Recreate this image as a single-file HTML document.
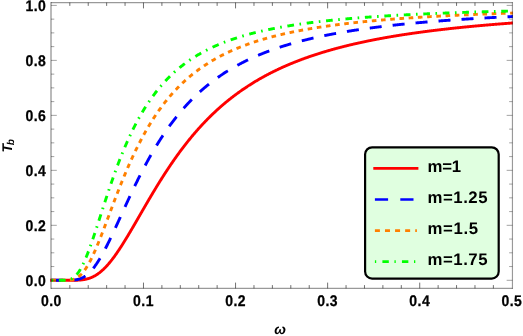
<!DOCTYPE html>
<html><head><meta charset="utf-8"><title>plot</title>
<style>
html,body{margin:0;padding:0;background:#fff;}
body{width:523px;height:336px;overflow:hidden;font-family:"Liberation Sans",sans-serif;}
svg{display:block;will-change:transform;}
text{text-rendering:geometricPrecision;font-family:"Liberation Sans",sans-serif;font-weight:bold;fill:#000;}
</style></head><body>
<svg width="523" height="336" viewBox="0 0 523 336">
<rect x="0" y="0" width="523" height="336" fill="#ffffff"/>
<defs><clipPath id="cp"><rect x="50.0" y="2.6" width="462.85" height="285.79999999999995"/></clipPath></defs>

<g clip-path="url(#cp)" fill="none" stroke-width="2.9" stroke-linecap="butt" stroke-linejoin="round">
<path d="M50.20,280.30 L51.40,280.30 L51.79,280.30 L52.17,280.30 L52.56,280.30 L52.94,280.30 L53.33,280.30 L53.72,280.30 L54.10,280.30 L54.49,280.30 L54.87,280.30 L55.26,280.30 L55.65,280.30 L56.03,280.30 L56.42,280.30 L56.80,280.30 L57.19,280.30 L57.58,280.30 L57.96,280.30 L58.35,280.30 L58.73,280.30 L59.12,280.30 L59.51,280.30 L59.89,280.30 L60.28,280.30 L60.66,280.30 L61.05,280.30 L61.44,280.30 L61.82,280.30 L62.21,280.30 L62.59,280.30 L62.98,280.30 L63.37,280.30 L63.75,280.30 L64.14,280.30 L64.52,280.30 L64.91,280.30 L65.29,280.30 L65.68,280.30 L66.07,280.30 L66.45,280.30 L66.84,280.30 L67.22,280.30 L67.61,280.30 L68.00,280.30 L68.38,280.30 L68.77,280.30 L69.15,280.30 L69.54,280.30 L69.93,280.30 L70.31,280.30 L70.70,280.30 L71.08,280.29 L71.47,280.29 L71.86,280.29 L72.24,280.29 L72.63,280.29 L73.01,280.28 L73.40,280.28 L73.79,280.27 L74.17,280.27 L74.56,280.26 L74.94,280.26 L75.33,280.25 L75.72,280.24 L76.10,280.23 L76.49,280.22 L76.87,280.21 L77.26,280.19 L77.65,280.18 L78.03,280.16 L78.42,280.14 L78.80,280.12 L79.19,280.09 L79.58,280.07 L79.96,280.04 L80.35,280.01 L80.73,279.98 L81.12,279.94 L81.51,279.90 L81.89,279.86 L82.28,279.81 L82.66,279.77 L83.05,279.71 L83.44,279.66 L83.82,279.60 L84.21,279.54 L84.59,279.47 L84.98,279.40 L85.37,279.32 L85.75,279.24 L86.14,279.16 L86.52,279.07 L86.91,278.97 L87.30,278.87 L87.68,278.77 L88.07,278.66 L88.45,278.54 L88.84,278.42 L89.22,278.30 L89.61,278.17 L90.00,278.03 L90.38,277.89 L90.77,277.74 L91.15,277.59 L91.54,277.42 L91.93,277.26 L92.31,277.09 L92.70,276.91 L93.08,276.72 L93.47,276.53 L93.86,276.33 L94.24,276.13 L94.63,275.92 L95.01,275.70 L95.40,275.48 L95.79,275.24 L96.17,275.01 L96.56,274.76 L96.94,274.51 L97.33,274.25 L97.72,273.99 L98.10,273.72 L98.49,273.44 L98.87,273.16 L99.26,272.87 L99.65,272.57 L100.03,272.26 L100.42,271.95 L100.80,271.63 L101.19,271.31 L101.58,270.98 L101.96,270.64 L102.35,270.29 L102.73,269.94 L103.12,269.58 L103.51,269.22 L103.89,268.85 L104.28,268.47 L104.66,268.09 L105.05,267.69 L105.44,267.30 L105.82,266.89 L106.21,266.49 L106.59,266.07 L106.98,265.65 L107.37,265.22 L107.75,264.79 L108.14,264.35 L108.52,263.90 L108.91,263.45 L109.30,262.99 L109.68,262.53 L110.07,262.06 L110.45,261.59 L110.84,261.11 L111.23,260.62 L111.61,260.13 L112.00,259.64 L112.38,259.14 L112.77,258.63 L113.15,258.12 L113.54,257.60 L113.93,257.08 L114.31,256.56 L114.70,256.03 L115.08,255.49 L115.47,254.95 L115.86,254.41 L116.24,253.86 L116.63,253.31 L117.01,252.75 L117.40,252.19 L117.79,251.63 L118.17,251.06 L118.56,250.48 L118.94,249.91 L119.33,249.33 L119.72,248.74 L120.10,248.16 L120.49,247.57 L120.87,246.97 L121.26,246.37 L121.65,245.77 L122.03,245.17 L122.42,244.56 L122.80,243.95 L123.19,243.34 L123.58,242.73 L123.96,242.11 L124.35,241.49 L124.73,240.86 L125.12,240.24 L125.51,239.61 L125.89,238.98 L126.28,238.34 L126.66,237.71 L127.05,237.07 L127.44,236.43 L127.82,235.79 L128.21,235.15 L128.59,234.50 L128.98,233.86 L129.37,233.21 L129.75,232.56 L130.14,231.91 L130.52,231.25 L130.91,230.60 L131.30,229.94 L131.68,229.29 L132.07,228.63 L132.45,227.97 L132.84,227.31 L133.23,226.65 L133.61,225.99 L134.00,225.32 L134.38,224.66 L134.77,224.00 L135.16,223.33 L135.54,222.66 L135.93,222.00 L136.31,221.33 L136.70,220.66 L137.09,220.00 L137.47,219.33 L137.86,218.66 L138.24,217.99 L138.63,217.32 L139.01,216.65 L139.40,215.98 L139.79,215.31 L140.17,214.65 L140.56,213.98 L140.94,213.31 L141.33,212.64 L141.72,211.97 L142.10,211.30 L142.49,210.63 L142.87,209.97 L143.26,209.30 L143.65,208.63 L144.03,207.97 L144.42,207.30 L144.80,206.63 L145.19,205.97 L145.58,205.31 L145.96,204.64 L146.35,203.98 L146.73,203.32 L147.12,202.66 L147.51,202.00 L147.89,201.34 L148.28,200.68 L148.66,200.02 L149.05,199.36 L149.44,198.71 L149.82,198.05 L150.21,197.40 L150.59,196.75 L150.98,196.10 L151.37,195.44 L151.75,194.80 L152.14,194.15 L152.52,193.50 L152.91,192.85 L153.30,192.21 L153.68,191.57 L154.07,190.93 L154.45,190.28 L154.84,189.65 L155.23,189.01 L155.61,188.37 L156.00,187.74 L156.38,187.10 L156.77,186.47 L157.16,185.84 L157.54,185.21 L157.93,184.58 L158.31,183.96 L158.70,183.33 L159.09,182.71 L159.47,182.09 L159.86,181.47 L160.24,180.85 L160.63,180.23 L161.02,179.62 L161.40,179.01 L161.79,178.39 L162.17,177.79 L162.56,177.18 L162.94,176.57 L163.33,175.97 L163.72,175.36 L164.10,174.76 L164.49,174.16 L164.87,173.56 L165.26,172.97 L165.65,172.37 L166.03,171.78 L166.42,171.19 L166.80,170.60 L167.19,170.02 L167.58,169.43 L167.96,168.85 L168.35,168.27 L168.73,167.69 L169.12,167.11 L169.51,166.53 L169.89,165.96 L170.28,165.39 L170.66,164.82 L171.05,164.25 L171.44,163.68 L171.82,163.12 L172.21,162.56 L172.59,162.00 L172.98,161.44 L173.37,160.88 L173.75,160.33 L174.14,159.77 L174.52,159.22 L174.91,158.67 L175.30,158.13 L175.68,157.58 L176.07,157.04 L176.45,156.50 L176.84,155.96 L177.23,155.42 L177.61,154.89 L178.00,154.35 L178.38,153.82 L178.77,153.29 L179.16,152.76 L179.54,152.24 L179.93,151.71 L180.31,151.19 L180.70,150.67 L181.09,150.15 L181.47,149.64 L181.86,149.12 L182.24,148.61 L182.63,148.10 L183.02,147.59 L183.40,147.09 L183.79,146.58 L184.17,146.08 L184.56,145.58 L184.95,145.08 L185.33,144.59 L185.72,144.09 L186.10,143.60 L186.49,143.11 L186.88,142.62 L187.26,142.13 L187.65,141.65 L188.03,141.16 L188.42,140.68 L188.80,140.20 L189.19,139.73 L189.58,139.25 L189.96,138.78 L190.35,138.31 L190.73,137.84 L191.12,137.37 L191.51,136.90 L191.89,136.44 L192.28,135.98 L192.66,135.52 L193.05,135.06 L193.44,134.60 L193.82,134.15 L194.21,133.69 L194.59,133.24 L194.98,132.79 L195.37,132.34 L195.75,131.90 L196.14,131.46 L196.52,131.01 L196.91,130.57 L197.30,130.14 L197.68,129.70 L198.07,129.26 L198.45,128.83 L198.84,128.40 L199.23,127.97 L199.61,127.54 L200.00,127.12 L200.38,126.69 L200.77,126.27 L201.16,125.85 L201.54,125.43 L201.93,125.01 L202.31,124.60 L202.70,124.19 L203.09,123.77 L203.47,123.36 L203.86,122.96 L204.24,122.55 L204.63,122.14 L205.02,121.74 L205.40,121.34 L205.79,120.94 L206.17,120.54 L206.56,120.14 L206.95,119.75 L207.33,119.36 L207.72,118.97 L208.10,118.58 L208.49,118.19 L208.88,117.80 L209.26,117.42 L209.65,117.03 L210.03,116.65 L210.42,116.27 L210.81,115.89 L211.19,115.52 L211.58,115.14 L211.96,114.77 L212.35,114.40 L212.73,114.03 L213.12,113.66 L213.51,113.29 L213.89,112.92 L214.28,112.56 L214.66,112.20 L215.05,111.84 L215.44,111.48 L215.82,111.12 L216.21,110.76 L216.59,110.41 L216.98,110.05 L217.37,109.70 L217.75,109.35 L218.14,109.00 L218.52,108.65 L218.91,108.31 L219.30,107.96 L219.68,107.62 L220.07,107.28 L220.45,106.94 L220.84,106.60 L221.23,106.26 L221.61,105.93 L222.00,105.59 L222.38,105.26 L222.77,104.93 L223.16,104.60 L223.54,104.27 L223.93,103.94 L224.31,103.62 L224.70,103.29 L225.09,102.97 L225.47,102.65 L225.86,102.33 L226.24,102.01 L226.63,101.69 L227.02,101.38 L227.40,101.06 L227.79,100.75 L228.17,100.43 L228.56,100.12 L228.95,99.81 L229.33,99.51 L229.72,99.20 L230.10,98.89 L230.49,98.59 L230.88,98.29 L231.26,97.98 L231.65,97.68 L232.03,97.39 L232.42,97.09 L232.81,96.79 L233.19,96.50 L233.58,96.20 L233.96,95.91 L234.35,95.62 L234.74,95.33 L235.12,95.04 L235.51,94.75 L235.89,94.46 L236.28,94.18 L236.66,93.89 L237.05,93.61 L237.44,93.33 L237.82,93.05 L238.21,92.77 L238.59,92.49 L238.98,92.21 L239.37,91.94 L239.75,91.66 L240.14,91.39 L240.52,91.12 L240.91,90.84 L241.30,90.57 L241.68,90.31 L242.07,90.04 L242.45,89.77 L242.84,89.51 L243.23,89.24 L243.61,88.98 L244.00,88.72 L244.38,88.45 L244.77,88.19 L245.16,87.94 L245.54,87.68 L245.93,87.42 L246.31,87.16 L246.70,86.91 L247.09,86.66 L247.47,86.40 L247.86,86.15 L248.24,85.90 L248.63,85.65 L249.02,85.40 L249.40,85.16 L249.79,84.91 L250.17,84.67 L250.56,84.42 L250.95,84.18 L251.33,83.94 L251.72,83.69 L252.10,83.45 L252.49,83.22 L252.88,82.98 L253.26,82.74 L253.65,82.50 L254.03,82.27 L254.42,82.03 L254.81,81.80 L255.19,81.57 L255.58,81.34 L255.96,81.11 L256.35,80.88 L256.74,80.65 L257.12,80.42 L257.51,80.19 L257.89,79.97 L258.28,79.74 L258.67,79.52 L259.05,79.30 L259.44,79.08 L259.82,78.85 L260.21,78.63 L260.60,78.41 L260.98,78.20 L261.37,77.98 L261.75,77.76 L262.14,77.55 L262.52,77.33 L262.91,77.12 L263.30,76.90 L263.68,76.69 L264.07,76.48 L264.45,76.27 L264.84,76.06 L265.23,75.85 L265.61,75.64 L266.00,75.44 L266.38,75.23 L266.77,75.03 L267.16,74.82 L267.54,74.62 L267.93,74.41 L268.31,74.21 L268.70,74.01 L269.09,73.81 L269.47,73.61 L269.86,73.41 L270.24,73.21 L270.63,73.02 L271.02,72.82 L271.40,72.62 L271.79,72.43 L272.17,72.23 L272.56,72.04 L272.95,71.85 L273.33,71.66 L273.72,71.47 L274.10,71.28 L274.49,71.09 L274.88,70.90 L275.26,70.71 L275.65,70.52 L276.03,70.34 L276.42,70.15 L276.81,69.96 L277.19,69.78 L277.58,69.60 L277.96,69.41 L278.35,69.23 L278.74,69.05 L279.12,68.87 L279.51,68.69 L279.89,68.51 L280.28,68.33 L280.67,68.15 L281.05,67.98 L281.44,67.80 L281.82,67.62 L282.21,67.45 L282.60,67.28 L282.98,67.10 L283.37,66.93 L283.75,66.76 L284.14,66.58 L284.53,66.41 L284.91,66.24 L285.30,66.07 L285.68,65.90 L286.07,65.74 L286.45,65.57 L286.84,65.40 L287.23,65.24 L287.61,65.07 L288.00,64.90 L288.38,64.74 L288.77,64.58 L289.16,64.41 L289.54,64.25 L289.93,64.09 L290.31,63.93 L290.70,63.77 L291.09,63.61 L291.47,63.45 L291.86,63.29 L292.24,63.13 L292.63,62.97 L293.02,62.81 L293.40,62.66 L293.79,62.50 L294.17,62.35 L294.56,62.19 L294.95,62.04 L295.33,61.89 L295.72,61.73 L296.10,61.58 L296.49,61.43 L296.88,61.28 L297.26,61.13 L297.65,60.98 L298.03,60.83 L298.42,60.68 L298.81,60.53 L299.19,60.38 L299.58,60.24 L299.96,60.09 L300.35,59.94 L300.74,59.80 L301.12,59.65 L301.51,59.51 L301.89,59.36 L302.28,59.22 L302.67,59.08 L303.05,58.94 L303.44,58.79 L303.82,58.65 L304.21,58.51 L304.60,58.37 L304.98,58.23 L305.37,58.09 L305.75,57.95 L306.14,57.82 L306.53,57.68 L306.91,57.54 L307.30,57.41 L307.68,57.27 L308.07,57.13 L308.46,57.00 L308.84,56.86 L309.23,56.73 L309.61,56.60 L310.00,56.46 L310.38,56.33 L310.77,56.20 L311.16,56.07 L311.54,55.94 L311.93,55.81 L312.31,55.68 L312.70,55.55 L313.09,55.42 L313.47,55.29 L313.86,55.16 L314.24,55.03 L314.63,54.90 L315.02,54.78 L315.40,54.65 L315.79,54.53 L316.17,54.40 L316.56,54.28 L316.95,54.15 L317.33,54.03 L317.72,53.90 L318.10,53.78 L318.49,53.66 L318.88,53.53 L319.26,53.41 L319.65,53.29 L320.03,53.17 L320.42,53.05 L320.81,52.93 L321.19,52.81 L321.58,52.69 L321.96,52.57 L322.35,52.45 L322.74,52.34 L323.12,52.22 L323.51,52.10 L323.89,51.98 L324.28,51.87 L324.67,51.75 L325.05,51.64 L325.44,51.52 L325.82,51.41 L326.21,51.29 L326.60,51.18 L326.98,51.07 L327.37,50.95 L327.75,50.84 L328.14,50.73 L328.53,50.62 L328.91,50.50 L329.30,50.39 L329.68,50.28 L330.07,50.17 L330.46,50.06 L330.84,49.95 L331.23,49.84 L331.61,49.73 L332.00,49.63 L332.39,49.52 L332.77,49.41 L333.16,49.30 L333.54,49.20 L333.93,49.09 L334.32,48.98 L334.70,48.88 L335.09,48.77 L335.47,48.67 L335.86,48.56 L336.24,48.46 L336.63,48.36 L337.02,48.25 L337.40,48.15 L337.79,48.05 L338.17,47.94 L338.56,47.84 L338.95,47.74 L339.33,47.64 L339.72,47.54 L340.10,47.44 L340.49,47.34 L340.88,47.24 L341.26,47.14 L341.65,47.04 L342.03,46.94 L342.42,46.84 L342.81,46.74 L343.19,46.64 L343.58,46.54 L343.96,46.45 L344.35,46.35 L344.74,46.25 L345.12,46.16 L345.51,46.06 L345.89,45.97 L346.28,45.87 L346.67,45.78 L347.05,45.68 L347.44,45.59 L347.82,45.49 L348.21,45.40 L348.60,45.30 L348.98,45.21 L349.37,45.12 L349.75,45.03 L350.14,44.93 L350.53,44.84 L350.91,44.75 L351.30,44.66 L351.68,44.57 L352.07,44.48 L352.46,44.39 L352.84,44.30 L353.23,44.21 L353.61,44.12 L354.00,44.03 L354.39,43.94 L354.77,43.85 L355.16,43.76 L355.54,43.67 L355.93,43.59 L356.32,43.50 L356.70,43.41 L357.09,43.33 L357.47,43.24 L357.86,43.15 L358.25,43.07 L358.63,42.98 L359.02,42.90 L359.40,42.81 L359.79,42.73 L360.17,42.64 L360.56,42.56 L360.95,42.47 L361.33,42.39 L361.72,42.31 L362.10,42.22 L362.49,42.14 L362.88,42.06 L363.26,41.97 L363.65,41.89 L364.03,41.81 L364.42,41.73 L364.81,41.65 L365.19,41.57 L365.58,41.49 L365.96,41.40 L366.35,41.32 L366.74,41.24 L367.12,41.16 L367.51,41.09 L367.89,41.01 L368.28,40.93 L368.67,40.85 L369.05,40.77 L369.44,40.69 L369.82,40.61 L370.21,40.54 L370.60,40.46 L370.98,40.38 L371.37,40.30 L371.75,40.23 L372.14,40.15 L372.53,40.07 L372.91,40.00 L373.30,39.92 L373.68,39.85 L374.07,39.77 L374.46,39.70 L374.84,39.62 L375.23,39.55 L375.61,39.47 L376.00,39.40 L376.39,39.32 L376.77,39.25 L377.16,39.18 L377.54,39.10 L377.93,39.03 L378.32,38.96 L378.70,38.89 L379.09,38.81 L379.47,38.74 L379.86,38.67 L380.25,38.60 L380.63,38.53 L381.02,38.46 L381.40,38.39 L381.79,38.31 L382.18,38.24 L382.56,38.17 L382.95,38.10 L383.33,38.03 L383.72,37.96 L384.10,37.89 L384.49,37.83 L384.88,37.76 L385.26,37.69 L385.65,37.62 L386.03,37.55 L386.42,37.48 L386.81,37.41 L387.19,37.35 L387.58,37.28 L387.96,37.21 L388.35,37.15 L388.74,37.08 L389.12,37.01 L389.51,36.94 L389.89,36.88 L390.28,36.81 L390.67,36.75 L391.05,36.68 L391.44,36.62 L391.82,36.55 L392.21,36.49 L392.60,36.42 L392.98,36.36 L393.37,36.29 L393.75,36.23 L394.14,36.16 L394.53,36.10 L394.91,36.04 L395.30,35.97 L395.68,35.91 L396.07,35.85 L396.46,35.78 L396.84,35.72 L397.23,35.66 L397.61,35.59 L398.00,35.53 L398.39,35.47 L398.77,35.41 L399.16,35.35 L399.54,35.29 L399.93,35.22 L400.32,35.16 L400.70,35.10 L401.09,35.04 L401.47,34.98 L401.86,34.92 L402.25,34.86 L402.63,34.80 L403.02,34.74 L403.40,34.68 L403.79,34.62 L404.18,34.56 L404.56,34.50 L404.95,34.44 L405.33,34.39 L405.72,34.33 L406.11,34.27 L406.49,34.21 L406.88,34.15 L407.26,34.09 L407.65,34.04 L408.04,33.98 L408.42,33.92 L408.81,33.86 L409.19,33.81 L409.58,33.75 L409.96,33.69 L410.35,33.64 L410.74,33.58 L411.12,33.52 L411.51,33.47 L411.89,33.41 L412.28,33.36 L412.67,33.30 L413.05,33.25 L413.44,33.19 L413.82,33.14 L414.21,33.08 L414.60,33.03 L414.98,32.97 L415.37,32.92 L415.75,32.86 L416.14,32.81 L416.53,32.75 L416.91,32.70 L417.30,32.65 L417.68,32.59 L418.07,32.54 L418.46,32.49 L418.84,32.43 L419.23,32.38 L419.61,32.33 L420.00,32.28 L420.39,32.22 L420.77,32.17 L421.16,32.12 L421.54,32.07 L421.93,32.01 L422.32,31.96 L422.70,31.91 L423.09,31.86 L423.47,31.81 L423.86,31.76 L424.25,31.71 L424.63,31.66 L425.02,31.60 L425.40,31.55 L425.79,31.50 L426.18,31.45 L426.56,31.40 L426.95,31.35 L427.33,31.30 L427.72,31.25 L428.11,31.20 L428.49,31.15 L428.88,31.11 L429.26,31.06 L429.65,31.01 L430.04,30.96 L430.42,30.91 L430.81,30.86 L431.19,30.81 L431.58,30.76 L431.97,30.72 L432.35,30.67 L432.74,30.62 L433.12,30.57 L433.51,30.52 L433.89,30.48 L434.28,30.43 L434.67,30.38 L435.05,30.34 L435.44,30.29 L435.82,30.24 L436.21,30.19 L436.60,30.15 L436.98,30.10 L437.37,30.06 L437.75,30.01 L438.14,29.96 L438.53,29.92 L438.91,29.87 L439.30,29.83 L439.68,29.78 L440.07,29.73 L440.46,29.69 L440.84,29.64 L441.23,29.60 L441.61,29.55 L442.00,29.51 L442.39,29.46 L442.77,29.42 L443.16,29.37 L443.54,29.33 L443.93,29.29 L444.32,29.24 L444.70,29.20 L445.09,29.15 L445.47,29.11 L445.86,29.07 L446.25,29.02 L446.63,28.98 L447.02,28.94 L447.40,28.89 L447.79,28.85 L448.18,28.81 L448.56,28.76 L448.95,28.72 L449.33,28.68 L449.72,28.64 L450.11,28.59 L450.49,28.55 L450.88,28.51 L451.26,28.47 L451.65,28.43 L452.04,28.38 L452.42,28.34 L452.81,28.30 L453.19,28.26 L453.58,28.22 L453.97,28.18 L454.35,28.13 L454.74,28.09 L455.12,28.05 L455.51,28.01 L455.90,27.97 L456.28,27.93 L456.67,27.89 L457.05,27.85 L457.44,27.81 L457.83,27.77 L458.21,27.73 L458.60,27.69 L458.98,27.65 L459.37,27.61 L459.75,27.57 L460.14,27.53 L460.53,27.49 L460.91,27.45 L461.30,27.41 L461.68,27.37 L462.07,27.33 L462.46,27.29 L462.84,27.26 L463.23,27.22 L463.61,27.18 L464.00,27.14 L464.39,27.10 L464.77,27.06 L465.16,27.03 L465.54,26.99 L465.93,26.95 L466.32,26.91 L466.70,26.87 L467.09,26.84 L467.47,26.80 L467.86,26.76 L468.25,26.72 L468.63,26.69 L469.02,26.65 L469.40,26.61 L469.79,26.57 L470.18,26.54 L470.56,26.50 L470.95,26.46 L471.33,26.43 L471.72,26.39 L472.11,26.35 L472.49,26.32 L472.88,26.28 L473.26,26.24 L473.65,26.21 L474.04,26.17 L474.42,26.14 L474.81,26.10 L475.19,26.06 L475.58,26.03 L475.97,25.99 L476.35,25.96 L476.74,25.92 L477.12,25.89 L477.51,25.85 L477.90,25.82 L478.28,25.78 L478.67,25.75 L479.05,25.71 L479.44,25.68 L479.83,25.64 L480.21,25.61 L480.60,25.57 L480.98,25.54 L481.37,25.50 L481.76,25.47 L482.14,25.44 L482.53,25.40 L482.91,25.37 L483.30,25.33 L483.68,25.30 L484.07,25.27 L484.46,25.23 L484.84,25.20 L485.23,25.17 L485.61,25.13 L486.00,25.10 L486.39,25.07 L486.77,25.03 L487.16,25.00 L487.54,24.97 L487.93,24.93 L488.32,24.90 L488.70,24.87 L489.09,24.84 L489.47,24.80 L489.86,24.77 L490.25,24.74 L490.63,24.71 L491.02,24.67 L491.40,24.64 L491.79,24.61 L492.18,24.58 L492.56,24.54 L492.95,24.51 L493.33,24.48 L493.72,24.45 L494.11,24.42 L494.49,24.39 L494.88,24.35 L495.26,24.32 L495.65,24.29 L496.04,24.26 L496.42,24.23 L496.81,24.20 L497.19,24.17 L497.58,24.14 L497.97,24.11 L498.35,24.07 L498.74,24.04 L499.12,24.01 L499.51,23.98 L499.90,23.95 L500.28,23.92 L500.67,23.89 L501.05,23.86 L501.44,23.83 L501.83,23.80 L502.21,23.77 L502.60,23.74 L502.98,23.71 L503.37,23.68 L503.76,23.65 L504.14,23.62 L504.53,23.59 L504.91,23.56 L505.30,23.53 L505.69,23.50 L506.07,23.47 L506.46,23.44 L506.84,23.42 L507.23,23.39 L507.61,23.36 L508.00,23.33 L508.39,23.30 L508.77,23.27 L509.16,23.24 L509.54,23.21 L509.93,23.18 L510.32,23.16 L510.70,23.13 L511.09,23.10 L511.47,23.07 L511.86,23.04 L512.25,23.01 L512.63,22.99 L513.02,22.96 L513.40,22.93 L513.79,22.90 L514.18,22.87 L514.56,22.85" stroke="#ff0000"/>
<path d="M50.20,280.30 L51.40,280.30 L51.79,280.30 L52.17,280.30 L52.56,280.30 L52.94,280.30 L53.33,280.30 L53.72,280.30 L54.10,280.30 L54.49,280.30 L54.87,280.30 L55.26,280.30 L55.65,280.30 L56.03,280.30 L56.42,280.30 L56.80,280.30 L57.19,280.30 L57.58,280.30 L57.96,280.30 L58.35,280.30 L58.73,280.30 L59.12,280.30 L59.51,280.30 L59.89,280.30 L60.28,280.30 L60.66,280.30 L61.05,280.30 L61.44,280.30 L61.82,280.30 L62.21,280.30 L62.59,280.30 L62.98,280.30 L63.37,280.30 L63.75,280.30 L64.14,280.30 L64.52,280.30 L64.91,280.30 L65.29,280.30 L65.68,280.30 L66.07,280.30 L66.45,280.30 L66.84,280.29 L67.22,280.29 L67.61,280.29 L68.00,280.29 L68.38,280.28 L68.77,280.28 L69.15,280.27 L69.54,280.27 L69.93,280.26 L70.31,280.25 L70.70,280.24 L71.08,280.22 L71.47,280.21 L71.86,280.19 L72.24,280.17 L72.63,280.14 L73.01,280.12 L73.40,280.09 L73.79,280.05 L74.17,280.02 L74.56,279.98 L74.94,279.93 L75.33,279.88 L75.72,279.82 L76.10,279.76 L76.49,279.69 L76.87,279.62 L77.26,279.54 L77.65,279.46 L78.03,279.36 L78.42,279.26 L78.80,279.16 L79.19,279.04 L79.58,278.92 L79.96,278.79 L80.35,278.65 L80.73,278.51 L81.12,278.35 L81.51,278.19 L81.89,278.02 L82.28,277.83 L82.66,277.64 L83.05,277.44 L83.44,277.23 L83.82,277.01 L84.21,276.78 L84.59,276.54 L84.98,276.28 L85.37,276.02 L85.75,275.75 L86.14,275.47 L86.52,275.17 L86.91,274.87 L87.30,274.55 L87.68,274.23 L88.07,273.89 L88.45,273.54 L88.84,273.18 L89.22,272.81 L89.61,272.43 L90.00,272.04 L90.38,271.64 L90.77,271.23 L91.15,270.80 L91.54,270.37 L91.93,269.92 L92.31,269.47 L92.70,269.00 L93.08,268.53 L93.47,268.04 L93.86,267.54 L94.24,267.04 L94.63,266.52 L95.01,265.99 L95.40,265.46 L95.79,264.91 L96.17,264.35 L96.56,263.79 L96.94,263.21 L97.33,262.63 L97.72,262.03 L98.10,261.43 L98.49,260.82 L98.87,260.20 L99.26,259.57 L99.65,258.94 L100.03,258.29 L100.42,257.64 L100.80,256.98 L101.19,256.31 L101.58,255.64 L101.96,254.96 L102.35,254.27 L102.73,253.57 L103.12,252.87 L103.51,252.16 L103.89,251.44 L104.28,250.72 L104.66,249.99 L105.05,249.25 L105.44,248.51 L105.82,247.77 L106.21,247.01 L106.59,246.26 L106.98,245.49 L107.37,244.73 L107.75,243.95 L108.14,243.18 L108.52,242.40 L108.91,241.61 L109.30,240.82 L109.68,240.03 L110.07,239.23 L110.45,238.43 L110.84,237.62 L111.23,236.81 L111.61,236.00 L112.00,235.19 L112.38,234.37 L112.77,233.55 L113.15,232.73 L113.54,231.90 L113.93,231.08 L114.31,230.25 L114.70,229.41 L115.08,228.58 L115.47,227.74 L115.86,226.91 L116.24,226.07 L116.63,225.23 L117.01,224.39 L117.40,223.54 L117.79,222.70 L118.17,221.86 L118.56,221.01 L118.94,220.16 L119.33,219.32 L119.72,218.47 L120.10,217.62 L120.49,216.78 L120.87,215.93 L121.26,215.08 L121.65,214.23 L122.03,213.39 L122.42,212.54 L122.80,211.69 L123.19,210.84 L123.58,210.00 L123.96,209.15 L124.35,208.31 L124.73,207.46 L125.12,206.62 L125.51,205.78 L125.89,204.94 L126.28,204.10 L126.66,203.26 L127.05,202.42 L127.44,201.59 L127.82,200.75 L128.21,199.92 L128.59,199.09 L128.98,198.25 L129.37,197.43 L129.75,196.60 L130.14,195.77 L130.52,194.95 L130.91,194.13 L131.30,193.31 L131.68,192.49 L132.07,191.68 L132.45,190.86 L132.84,190.05 L133.23,189.24 L133.61,188.44 L134.00,187.63 L134.38,186.83 L134.77,186.03 L135.16,185.23 L135.54,184.44 L135.93,183.65 L136.31,182.86 L136.70,182.07 L137.09,181.28 L137.47,180.50 L137.86,179.72 L138.24,178.94 L138.63,178.17 L139.01,177.40 L139.40,176.63 L139.79,175.86 L140.17,175.10 L140.56,174.34 L140.94,173.58 L141.33,172.83 L141.72,172.07 L142.10,171.33 L142.49,170.58 L142.87,169.84 L143.26,169.10 L143.65,168.36 L144.03,167.62 L144.42,166.89 L144.80,166.16 L145.19,165.44 L145.58,164.72 L145.96,164.00 L146.35,163.28 L146.73,162.57 L147.12,161.86 L147.51,161.15 L147.89,160.45 L148.28,159.75 L148.66,159.05 L149.05,158.36 L149.44,157.66 L149.82,156.98 L150.21,156.29 L150.59,155.61 L150.98,154.93 L151.37,154.25 L151.75,153.58 L152.14,152.91 L152.52,152.24 L152.91,151.58 L153.30,150.92 L153.68,150.26 L154.07,149.61 L154.45,148.96 L154.84,148.31 L155.23,147.67 L155.61,147.03 L156.00,146.39 L156.38,145.75 L156.77,145.12 L157.16,144.49 L157.54,143.87 L157.93,143.24 L158.31,142.62 L158.70,142.01 L159.09,141.39 L159.47,140.78 L159.86,140.17 L160.24,139.57 L160.63,138.97 L161.02,138.37 L161.40,137.78 L161.79,137.18 L162.17,136.59 L162.56,136.01 L162.94,135.42 L163.33,134.84 L163.72,134.27 L164.10,133.69 L164.49,133.12 L164.87,132.55 L165.26,131.99 L165.65,131.43 L166.03,130.87 L166.42,130.31 L166.80,129.76 L167.19,129.20 L167.58,128.66 L167.96,128.11 L168.35,127.57 L168.73,127.03 L169.12,126.49 L169.51,125.96 L169.89,125.43 L170.28,124.90 L170.66,124.38 L171.05,123.85 L171.44,123.33 L171.82,122.82 L172.21,122.30 L172.59,121.79 L172.98,121.28 L173.37,120.78 L173.75,120.27 L174.14,119.77 L174.52,119.27 L174.91,118.78 L175.30,118.29 L175.68,117.80 L176.07,117.31 L176.45,116.82 L176.84,116.34 L177.23,115.86 L177.61,115.39 L178.00,114.91 L178.38,114.44 L178.77,113.97 L179.16,113.50 L179.54,113.04 L179.93,112.58 L180.31,112.12 L180.70,111.66 L181.09,111.21 L181.47,110.75 L181.86,110.30 L182.24,109.86 L182.63,109.41 L183.02,108.97 L183.40,108.53 L183.79,108.09 L184.17,107.66 L184.56,107.23 L184.95,106.80 L185.33,106.37 L185.72,105.94 L186.10,105.52 L186.49,105.10 L186.88,104.68 L187.26,104.26 L187.65,103.85 L188.03,103.44 L188.42,103.03 L188.80,102.62 L189.19,102.21 L189.58,101.81 L189.96,101.41 L190.35,101.01 L190.73,100.61 L191.12,100.22 L191.51,99.82 L191.89,99.43 L192.28,99.05 L192.66,98.66 L193.05,98.28 L193.44,97.89 L193.82,97.51 L194.21,97.14 L194.59,96.76 L194.98,96.39 L195.37,96.01 L195.75,95.64 L196.14,95.28 L196.52,94.91 L196.91,94.55 L197.30,94.19 L197.68,93.83 L198.07,93.47 L198.45,93.11 L198.84,92.76 L199.23,92.40 L199.61,92.05 L200.00,91.71 L200.38,91.36 L200.77,91.01 L201.16,90.67 L201.54,90.33 L201.93,89.99 L202.31,89.65 L202.70,89.32 L203.09,88.98 L203.47,88.65 L203.86,88.32 L204.24,87.99 L204.63,87.66 L205.02,87.34 L205.40,87.02 L205.79,86.69 L206.17,86.37 L206.56,86.06 L206.95,85.74 L207.33,85.42 L207.72,85.11 L208.10,84.80 L208.49,84.49 L208.88,84.18 L209.26,83.87 L209.65,83.57 L210.03,83.27 L210.42,82.96 L210.81,82.66 L211.19,82.36 L211.58,82.07 L211.96,81.77 L212.35,81.48 L212.73,81.19 L213.12,80.89 L213.51,80.60 L213.89,80.32 L214.28,80.03 L214.66,79.75 L215.05,79.46 L215.44,79.18 L215.82,78.90 L216.21,78.62 L216.59,78.34 L216.98,78.07 L217.37,77.79 L217.75,77.52 L218.14,77.25 L218.52,76.98 L218.91,76.71 L219.30,76.44 L219.68,76.17 L220.07,75.91 L220.45,75.64 L220.84,75.38 L221.23,75.12 L221.61,74.86 L222.00,74.60 L222.38,74.35 L222.77,74.09 L223.16,73.84 L223.54,73.58 L223.93,73.33 L224.31,73.08 L224.70,72.83 L225.09,72.58 L225.47,72.34 L225.86,72.09 L226.24,71.85 L226.63,71.60 L227.02,71.36 L227.40,71.12 L227.79,70.88 L228.17,70.65 L228.56,70.41 L228.95,70.17 L229.33,69.94 L229.72,69.70 L230.10,69.47 L230.49,69.24 L230.88,69.01 L231.26,68.78 L231.65,68.56 L232.03,68.33 L232.42,68.10 L232.81,67.88 L233.19,67.66 L233.58,67.44 L233.96,67.21 L234.35,66.99 L234.74,66.78 L235.12,66.56 L235.51,66.34 L235.89,66.13 L236.28,65.91 L236.66,65.70 L237.05,65.49 L237.44,65.28 L237.82,65.07 L238.21,64.86 L238.59,64.65 L238.98,64.44 L239.37,64.24 L239.75,64.03 L240.14,63.83 L240.52,63.62 L240.91,63.42 L241.30,63.22 L241.68,63.02 L242.07,62.82 L242.45,62.62 L242.84,62.43 L243.23,62.23 L243.61,62.03 L244.00,61.84 L244.38,61.65 L244.77,61.45 L245.16,61.26 L245.54,61.07 L245.93,60.88 L246.31,60.69 L246.70,60.51 L247.09,60.32 L247.47,60.13 L247.86,59.95 L248.24,59.76 L248.63,59.58 L249.02,59.40 L249.40,59.22 L249.79,59.03 L250.17,58.85 L250.56,58.68 L250.95,58.50 L251.33,58.32 L251.72,58.14 L252.10,57.97 L252.49,57.79 L252.88,57.62 L253.26,57.45 L253.65,57.27 L254.03,57.10 L254.42,56.93 L254.81,56.76 L255.19,56.59 L255.58,56.42 L255.96,56.26 L256.35,56.09 L256.74,55.92 L257.12,55.76 L257.51,55.59 L257.89,55.43 L258.28,55.27 L258.67,55.10 L259.05,54.94 L259.44,54.78 L259.82,54.62 L260.21,54.46 L260.60,54.30 L260.98,54.14 L261.37,53.99 L261.75,53.83 L262.14,53.68 L262.52,53.52 L262.91,53.37 L263.30,53.21 L263.68,53.06 L264.07,52.91 L264.45,52.76 L264.84,52.61 L265.23,52.46 L265.61,52.31 L266.00,52.16 L266.38,52.01 L266.77,51.86 L267.16,51.71 L267.54,51.57 L267.93,51.42 L268.31,51.28 L268.70,51.13 L269.09,50.99 L269.47,50.85 L269.86,50.71 L270.24,50.56 L270.63,50.42 L271.02,50.28 L271.40,50.14 L271.79,50.00 L272.17,49.87 L272.56,49.73 L272.95,49.59 L273.33,49.45 L273.72,49.32 L274.10,49.18 L274.49,49.05 L274.88,48.91 L275.26,48.78 L275.65,48.65 L276.03,48.51 L276.42,48.38 L276.81,48.25 L277.19,48.12 L277.58,47.99 L277.96,47.86 L278.35,47.73 L278.74,47.60 L279.12,47.48 L279.51,47.35 L279.89,47.22 L280.28,47.10 L280.67,46.97 L281.05,46.84 L281.44,46.72 L281.82,46.60 L282.21,46.47 L282.60,46.35 L282.98,46.23 L283.37,46.11 L283.75,45.98 L284.14,45.86 L284.53,45.74 L284.91,45.62 L285.30,45.50 L285.68,45.38 L286.07,45.27 L286.45,45.15 L286.84,45.03 L287.23,44.91 L287.61,44.80 L288.00,44.68 L288.38,44.57 L288.77,44.45 L289.16,44.34 L289.54,44.22 L289.93,44.11 L290.31,44.00 L290.70,43.89 L291.09,43.77 L291.47,43.66 L291.86,43.55 L292.24,43.44 L292.63,43.33 L293.02,43.22 L293.40,43.11 L293.79,43.00 L294.17,42.89 L294.56,42.79 L294.95,42.68 L295.33,42.57 L295.72,42.47 L296.10,42.36 L296.49,42.25 L296.88,42.15 L297.26,42.04 L297.65,41.94 L298.03,41.84 L298.42,41.73 L298.81,41.63 L299.19,41.53 L299.58,41.42 L299.96,41.32 L300.35,41.22 L300.74,41.12 L301.12,41.02 L301.51,40.92 L301.89,40.82 L302.28,40.72 L302.67,40.62 L303.05,40.52 L303.44,40.42 L303.82,40.33 L304.21,40.23 L304.60,40.13 L304.98,40.04 L305.37,39.94 L305.75,39.84 L306.14,39.75 L306.53,39.65 L306.91,39.56 L307.30,39.47 L307.68,39.37 L308.07,39.28 L308.46,39.18 L308.84,39.09 L309.23,39.00 L309.61,38.91 L310.00,38.82 L310.38,38.72 L310.77,38.63 L311.16,38.54 L311.54,38.45 L311.93,38.36 L312.31,38.27 L312.70,38.18 L313.09,38.10 L313.47,38.01 L313.86,37.92 L314.24,37.83 L314.63,37.74 L315.02,37.66 L315.40,37.57 L315.79,37.48 L316.17,37.40 L316.56,37.31 L316.95,37.23 L317.33,37.14 L317.72,37.06 L318.10,36.97 L318.49,36.89 L318.88,36.80 L319.26,36.72 L319.65,36.64 L320.03,36.56 L320.42,36.47 L320.81,36.39 L321.19,36.31 L321.58,36.23 L321.96,36.15 L322.35,36.07 L322.74,35.99 L323.12,35.90 L323.51,35.83 L323.89,35.75 L324.28,35.67 L324.67,35.59 L325.05,35.51 L325.44,35.43 L325.82,35.35 L326.21,35.27 L326.60,35.20 L326.98,35.12 L327.37,35.04 L327.75,34.97 L328.14,34.89 L328.53,34.81 L328.91,34.74 L329.30,34.66 L329.68,34.59 L330.07,34.51 L330.46,34.44 L330.84,34.36 L331.23,34.29 L331.61,34.21 L332.00,34.14 L332.39,34.07 L332.77,33.99 L333.16,33.92 L333.54,33.85 L333.93,33.78 L334.32,33.70 L334.70,33.63 L335.09,33.56 L335.47,33.49 L335.86,33.42 L336.24,33.35 L336.63,33.28 L337.02,33.21 L337.40,33.14 L337.79,33.07 L338.17,33.00 L338.56,32.93 L338.95,32.86 L339.33,32.79 L339.72,32.73 L340.10,32.66 L340.49,32.59 L340.88,32.52 L341.26,32.45 L341.65,32.39 L342.03,32.32 L342.42,32.25 L342.81,32.19 L343.19,32.12 L343.58,32.06 L343.96,31.99 L344.35,31.92 L344.74,31.86 L345.12,31.79 L345.51,31.73 L345.89,31.66 L346.28,31.60 L346.67,31.54 L347.05,31.47 L347.44,31.41 L347.82,31.35 L348.21,31.28 L348.60,31.22 L348.98,31.16 L349.37,31.09 L349.75,31.03 L350.14,30.97 L350.53,30.91 L350.91,30.85 L351.30,30.79 L351.68,30.72 L352.07,30.66 L352.46,30.60 L352.84,30.54 L353.23,30.48 L353.61,30.42 L354.00,30.36 L354.39,30.30 L354.77,30.24 L355.16,30.18 L355.54,30.12 L355.93,30.07 L356.32,30.01 L356.70,29.95 L357.09,29.89 L357.47,29.83 L357.86,29.78 L358.25,29.72 L358.63,29.66 L359.02,29.60 L359.40,29.55 L359.79,29.49 L360.17,29.43 L360.56,29.38 L360.95,29.32 L361.33,29.26 L361.72,29.21 L362.10,29.15 L362.49,29.10 L362.88,29.04 L363.26,28.99 L363.65,28.93 L364.03,28.88 L364.42,28.82 L364.81,28.77 L365.19,28.71 L365.58,28.66 L365.96,28.61 L366.35,28.55 L366.74,28.50 L367.12,28.45 L367.51,28.39 L367.89,28.34 L368.28,28.29 L368.67,28.23 L369.05,28.18 L369.44,28.13 L369.82,28.08 L370.21,28.03 L370.60,27.97 L370.98,27.92 L371.37,27.87 L371.75,27.82 L372.14,27.77 L372.53,27.72 L372.91,27.67 L373.30,27.62 L373.68,27.57 L374.07,27.52 L374.46,27.47 L374.84,27.42 L375.23,27.37 L375.61,27.32 L376.00,27.27 L376.39,27.22 L376.77,27.17 L377.16,27.12 L377.54,27.07 L377.93,27.03 L378.32,26.98 L378.70,26.93 L379.09,26.88 L379.47,26.83 L379.86,26.79 L380.25,26.74 L380.63,26.69 L381.02,26.64 L381.40,26.60 L381.79,26.55 L382.18,26.50 L382.56,26.46 L382.95,26.41 L383.33,26.36 L383.72,26.32 L384.10,26.27 L384.49,26.23 L384.88,26.18 L385.26,26.13 L385.65,26.09 L386.03,26.04 L386.42,26.00 L386.81,25.95 L387.19,25.91 L387.58,25.86 L387.96,25.82 L388.35,25.77 L388.74,25.73 L389.12,25.69 L389.51,25.64 L389.89,25.60 L390.28,25.55 L390.67,25.51 L391.05,25.47 L391.44,25.42 L391.82,25.38 L392.21,25.34 L392.60,25.30 L392.98,25.25 L393.37,25.21 L393.75,25.17 L394.14,25.13 L394.53,25.08 L394.91,25.04 L395.30,25.00 L395.68,24.96 L396.07,24.92 L396.46,24.87 L396.84,24.83 L397.23,24.79 L397.61,24.75 L398.00,24.71 L398.39,24.67 L398.77,24.63 L399.16,24.59 L399.54,24.55 L399.93,24.51 L400.32,24.47 L400.70,24.43 L401.09,24.39 L401.47,24.35 L401.86,24.31 L402.25,24.27 L402.63,24.23 L403.02,24.19 L403.40,24.15 L403.79,24.11 L404.18,24.07 L404.56,24.03 L404.95,23.99 L405.33,23.95 L405.72,23.91 L406.11,23.88 L406.49,23.84 L406.88,23.80 L407.26,23.76 L407.65,23.72 L408.04,23.69 L408.42,23.65 L408.81,23.61 L409.19,23.57 L409.58,23.54 L409.96,23.50 L410.35,23.46 L410.74,23.42 L411.12,23.39 L411.51,23.35 L411.89,23.31 L412.28,23.28 L412.67,23.24 L413.05,23.20 L413.44,23.17 L413.82,23.13 L414.21,23.10 L414.60,23.06 L414.98,23.02 L415.37,22.99 L415.75,22.95 L416.14,22.92 L416.53,22.88 L416.91,22.85 L417.30,22.81 L417.68,22.78 L418.07,22.74 L418.46,22.71 L418.84,22.67 L419.23,22.64 L419.61,22.60 L420.00,22.57 L420.39,22.53 L420.77,22.50 L421.16,22.46 L421.54,22.43 L421.93,22.40 L422.32,22.36 L422.70,22.33 L423.09,22.30 L423.47,22.26 L423.86,22.23 L424.25,22.19 L424.63,22.16 L425.02,22.13 L425.40,22.10 L425.79,22.06 L426.18,22.03 L426.56,22.00 L426.95,21.96 L427.33,21.93 L427.72,21.90 L428.11,21.87 L428.49,21.83 L428.88,21.80 L429.26,21.77 L429.65,21.74 L430.04,21.71 L430.42,21.67 L430.81,21.64 L431.19,21.61 L431.58,21.58 L431.97,21.55 L432.35,21.52 L432.74,21.48 L433.12,21.45 L433.51,21.42 L433.89,21.39 L434.28,21.36 L434.67,21.33 L435.05,21.30 L435.44,21.27 L435.82,21.24 L436.21,21.21 L436.60,21.18 L436.98,21.15 L437.37,21.12 L437.75,21.09 L438.14,21.06 L438.53,21.03 L438.91,21.00 L439.30,20.97 L439.68,20.94 L440.07,20.91 L440.46,20.88 L440.84,20.85 L441.23,20.82 L441.61,20.79 L442.00,20.76 L442.39,20.73 L442.77,20.70 L443.16,20.67 L443.54,20.64 L443.93,20.61 L444.32,20.59 L444.70,20.56 L445.09,20.53 L445.47,20.50 L445.86,20.47 L446.25,20.44 L446.63,20.41 L447.02,20.39 L447.40,20.36 L447.79,20.33 L448.18,20.30 L448.56,20.27 L448.95,20.25 L449.33,20.22 L449.72,20.19 L450.11,20.16 L450.49,20.14 L450.88,20.11 L451.26,20.08 L451.65,20.05 L452.04,20.03 L452.42,20.00 L452.81,19.97 L453.19,19.95 L453.58,19.92 L453.97,19.89 L454.35,19.86 L454.74,19.84 L455.12,19.81 L455.51,19.78 L455.90,19.76 L456.28,19.73 L456.67,19.71 L457.05,19.68 L457.44,19.65 L457.83,19.63 L458.21,19.60 L458.60,19.58 L458.98,19.55 L459.37,19.52 L459.75,19.50 L460.14,19.47 L460.53,19.45 L460.91,19.42 L461.30,19.40 L461.68,19.37 L462.07,19.34 L462.46,19.32 L462.84,19.29 L463.23,19.27 L463.61,19.24 L464.00,19.22 L464.39,19.19 L464.77,19.17 L465.16,19.14 L465.54,19.12 L465.93,19.09 L466.32,19.07 L466.70,19.05 L467.09,19.02 L467.47,19.00 L467.86,18.97 L468.25,18.95 L468.63,18.92 L469.02,18.90 L469.40,18.88 L469.79,18.85 L470.18,18.83 L470.56,18.80 L470.95,18.78 L471.33,18.76 L471.72,18.73 L472.11,18.71 L472.49,18.68 L472.88,18.66 L473.26,18.64 L473.65,18.61 L474.04,18.59 L474.42,18.57 L474.81,18.54 L475.19,18.52 L475.58,18.50 L475.97,18.48 L476.35,18.45 L476.74,18.43 L477.12,18.41 L477.51,18.38 L477.90,18.36 L478.28,18.34 L478.67,18.32 L479.05,18.29 L479.44,18.27 L479.83,18.25 L480.21,18.23 L480.60,18.20 L480.98,18.18 L481.37,18.16 L481.76,18.14 L482.14,18.11 L482.53,18.09 L482.91,18.07 L483.30,18.05 L483.68,18.03 L484.07,18.01 L484.46,17.98 L484.84,17.96 L485.23,17.94 L485.61,17.92 L486.00,17.90 L486.39,17.88 L486.77,17.85 L487.16,17.83 L487.54,17.81 L487.93,17.79 L488.32,17.77 L488.70,17.75 L489.09,17.73 L489.47,17.71 L489.86,17.68 L490.25,17.66 L490.63,17.64 L491.02,17.62 L491.40,17.60 L491.79,17.58 L492.18,17.56 L492.56,17.54 L492.95,17.52 L493.33,17.50 L493.72,17.48 L494.11,17.46 L494.49,17.44 L494.88,17.42 L495.26,17.40 L495.65,17.38 L496.04,17.36 L496.42,17.34 L496.81,17.32 L497.19,17.30 L497.58,17.28 L497.97,17.26 L498.35,17.24 L498.74,17.22 L499.12,17.20 L499.51,17.18 L499.90,17.16 L500.28,17.14 L500.67,17.12 L501.05,17.10 L501.44,17.08 L501.83,17.06 L502.21,17.04 L502.60,17.02 L502.98,17.00 L503.37,16.98 L503.76,16.96 L504.14,16.94 L504.53,16.92 L504.91,16.90 L505.30,16.89 L505.69,16.87 L506.07,16.85 L506.46,16.83 L506.84,16.81 L507.23,16.79 L507.61,16.77 L508.00,16.75 L508.39,16.74 L508.77,16.72 L509.16,16.70 L509.54,16.68 L509.93,16.66 L510.32,16.64 L510.70,16.62 L511.09,16.61 L511.47,16.59 L511.86,16.57 L512.25,16.55 L512.63,16.53 L513.02,16.52 L513.40,16.50 L513.79,16.48 L514.18,16.46 L514.56,16.44" stroke="#0000ff" stroke-dasharray="12.03 11.02" stroke-dashoffset="-1.0"/>
<path d="M50.20,280.30 L51.40,280.30 L51.79,280.30 L52.17,280.30 L52.56,280.30 L52.94,280.30 L53.33,280.30 L53.72,280.30 L54.10,280.30 L54.49,280.30 L54.87,280.30 L55.26,280.30 L55.65,280.30 L56.03,280.30 L56.42,280.30 L56.80,280.30 L57.19,280.30 L57.58,280.30 L57.96,280.30 L58.35,280.30 L58.73,280.30 L59.12,280.30 L59.51,280.30 L59.89,280.30 L60.28,280.30 L60.66,280.30 L61.05,280.30 L61.44,280.30 L61.82,280.30 L62.21,280.30 L62.59,280.30 L62.98,280.30 L63.37,280.30 L63.75,280.30 L64.14,280.29 L64.52,280.29 L64.91,280.29 L65.29,280.28 L65.68,280.28 L66.07,280.27 L66.45,280.26 L66.84,280.25 L67.22,280.24 L67.61,280.22 L68.00,280.20 L68.38,280.18 L68.77,280.16 L69.15,280.12 L69.54,280.09 L69.93,280.05 L70.31,280.00 L70.70,279.95 L71.08,279.89 L71.47,279.82 L71.86,279.74 L72.24,279.66 L72.63,279.57 L73.01,279.47 L73.40,279.35 L73.79,279.23 L74.17,279.10 L74.56,278.95 L74.94,278.80 L75.33,278.63 L75.72,278.45 L76.10,278.26 L76.49,278.05 L76.87,277.83 L77.26,277.60 L77.65,277.35 L78.03,277.09 L78.42,276.81 L78.80,276.52 L79.19,276.21 L79.58,275.89 L79.96,275.55 L80.35,275.19 L80.73,274.82 L81.12,274.44 L81.51,274.04 L81.89,273.62 L82.28,273.19 L82.66,272.74 L83.05,272.27 L83.44,271.79 L83.82,271.30 L84.21,270.78 L84.59,270.25 L84.98,269.71 L85.37,269.15 L85.75,268.58 L86.14,267.99 L86.52,267.38 L86.91,266.76 L87.30,266.13 L87.68,265.48 L88.07,264.81 L88.45,264.14 L88.84,263.44 L89.22,262.74 L89.61,262.02 L90.00,261.29 L90.38,260.55 L90.77,259.79 L91.15,259.02 L91.54,258.24 L91.93,257.45 L92.31,256.64 L92.70,255.83 L93.08,255.00 L93.47,254.17 L93.86,253.32 L94.24,252.46 L94.63,251.60 L95.01,250.72 L95.40,249.84 L95.79,248.94 L96.17,248.04 L96.56,247.13 L96.94,246.21 L97.33,245.29 L97.72,244.36 L98.10,243.42 L98.49,242.47 L98.87,241.52 L99.26,240.56 L99.65,239.59 L100.03,238.62 L100.42,237.65 L100.80,236.67 L101.19,235.68 L101.58,234.70 L101.96,233.70 L102.35,232.70 L102.73,231.70 L103.12,230.70 L103.51,229.69 L103.89,228.68 L104.28,227.67 L104.66,226.65 L105.05,225.64 L105.44,224.62 L105.82,223.60 L106.21,222.57 L106.59,221.55 L106.98,220.52 L107.37,219.50 L107.75,218.47 L108.14,217.44 L108.52,216.42 L108.91,215.39 L109.30,214.36 L109.68,213.33 L110.07,212.30 L110.45,211.28 L110.84,210.25 L111.23,209.23 L111.61,208.20 L112.00,207.18 L112.38,206.16 L112.77,205.14 L113.15,204.12 L113.54,203.10 L113.93,202.09 L114.31,201.08 L114.70,200.06 L115.08,199.06 L115.47,198.05 L115.86,197.05 L116.24,196.04 L116.63,195.05 L117.01,194.05 L117.40,193.06 L117.79,192.07 L118.17,191.08 L118.56,190.10 L118.94,189.12 L119.33,188.14 L119.72,187.16 L120.10,186.19 L120.49,185.23 L120.87,184.26 L121.26,183.30 L121.65,182.35 L122.03,181.39 L122.42,180.45 L122.80,179.50 L123.19,178.56 L123.58,177.62 L123.96,176.69 L124.35,175.76 L124.73,174.84 L125.12,173.92 L125.51,173.00 L125.89,172.09 L126.28,171.18 L126.66,170.28 L127.05,169.38 L127.44,168.48 L127.82,167.59 L128.21,166.71 L128.59,165.83 L128.98,164.95 L129.37,164.08 L129.75,163.21 L130.14,162.34 L130.52,161.48 L130.91,160.63 L131.30,159.78 L131.68,158.93 L132.07,158.09 L132.45,157.26 L132.84,156.43 L133.23,155.60 L133.61,154.78 L134.00,153.96 L134.38,153.14 L134.77,152.33 L135.16,151.53 L135.54,150.73 L135.93,149.94 L136.31,149.15 L136.70,148.36 L137.09,147.58 L137.47,146.80 L137.86,146.03 L138.24,145.26 L138.63,144.50 L139.01,143.74 L139.40,142.99 L139.79,142.24 L140.17,141.49 L140.56,140.75 L140.94,140.02 L141.33,139.28 L141.72,138.56 L142.10,137.84 L142.49,137.12 L142.87,136.40 L143.26,135.69 L143.65,134.99 L144.03,134.29 L144.42,133.59 L144.80,132.90 L145.19,132.21 L145.58,131.53 L145.96,130.85 L146.35,130.18 L146.73,129.51 L147.12,128.84 L147.51,128.18 L147.89,127.52 L148.28,126.87 L148.66,126.22 L149.05,125.58 L149.44,124.94 L149.82,124.30 L150.21,123.67 L150.59,123.04 L150.98,122.41 L151.37,121.79 L151.75,121.18 L152.14,120.56 L152.52,119.96 L152.91,119.35 L153.30,118.75 L153.68,118.15 L154.07,117.56 L154.45,116.97 L154.84,116.39 L155.23,115.81 L155.61,115.23 L156.00,114.65 L156.38,114.08 L156.77,113.52 L157.16,112.95 L157.54,112.40 L157.93,111.84 L158.31,111.29 L158.70,110.74 L159.09,110.20 L159.47,109.66 L159.86,109.12 L160.24,108.58 L160.63,108.05 L161.02,107.53 L161.40,107.00 L161.79,106.48 L162.17,105.97 L162.56,105.45 L162.94,104.94 L163.33,104.44 L163.72,103.93 L164.10,103.43 L164.49,102.94 L164.87,102.44 L165.26,101.95 L165.65,101.47 L166.03,100.98 L166.42,100.50 L166.80,100.03 L167.19,99.55 L167.58,99.08 L167.96,98.61 L168.35,98.15 L168.73,97.68 L169.12,97.23 L169.51,96.77 L169.89,96.32 L170.28,95.87 L170.66,95.42 L171.05,94.98 L171.44,94.53 L171.82,94.10 L172.21,93.66 L172.59,93.23 L172.98,92.80 L173.37,92.37 L173.75,91.95 L174.14,91.52 L174.52,91.10 L174.91,90.69 L175.30,90.28 L175.68,89.86 L176.07,89.46 L176.45,89.05 L176.84,88.65 L177.23,88.25 L177.61,87.85 L178.00,87.45 L178.38,87.06 L178.77,86.67 L179.16,86.28 L179.54,85.90 L179.93,85.52 L180.31,85.14 L180.70,84.76 L181.09,84.38 L181.47,84.01 L181.86,83.64 L182.24,83.27 L182.63,82.91 L183.02,82.54 L183.40,82.18 L183.79,81.82 L184.17,81.47 L184.56,81.11 L184.95,80.76 L185.33,80.41 L185.72,80.06 L186.10,79.72 L186.49,79.37 L186.88,79.03 L187.26,78.69 L187.65,78.36 L188.03,78.02 L188.42,77.69 L188.80,77.36 L189.19,77.03 L189.58,76.70 L189.96,76.38 L190.35,76.06 L190.73,75.74 L191.12,75.42 L191.51,75.10 L191.89,74.79 L192.28,74.47 L192.66,74.16 L193.05,73.85 L193.44,73.55 L193.82,73.24 L194.21,72.94 L194.59,72.64 L194.98,72.34 L195.37,72.04 L195.75,71.75 L196.14,71.45 L196.52,71.16 L196.91,70.87 L197.30,70.58 L197.68,70.30 L198.07,70.01 L198.45,69.73 L198.84,69.45 L199.23,69.17 L199.61,68.89 L200.00,68.61 L200.38,68.34 L200.77,68.07 L201.16,67.79 L201.54,67.52 L201.93,67.26 L202.31,66.99 L202.70,66.72 L203.09,66.46 L203.47,66.20 L203.86,65.94 L204.24,65.68 L204.63,65.42 L205.02,65.17 L205.40,64.91 L205.79,64.66 L206.17,64.41 L206.56,64.16 L206.95,63.91 L207.33,63.67 L207.72,63.42 L208.10,63.18 L208.49,62.94 L208.88,62.70 L209.26,62.46 L209.65,62.22 L210.03,61.98 L210.42,61.75 L210.81,61.51 L211.19,61.28 L211.58,61.05 L211.96,60.82 L212.35,60.59 L212.73,60.36 L213.12,60.14 L213.51,59.91 L213.89,59.69 L214.28,59.47 L214.66,59.25 L215.05,59.03 L215.44,58.81 L215.82,58.59 L216.21,58.38 L216.59,58.16 L216.98,57.95 L217.37,57.74 L217.75,57.53 L218.14,57.32 L218.52,57.11 L218.91,56.90 L219.30,56.70 L219.68,56.49 L220.07,56.29 L220.45,56.09 L220.84,55.89 L221.23,55.69 L221.61,55.49 L222.00,55.29 L222.38,55.09 L222.77,54.90 L223.16,54.70 L223.54,54.51 L223.93,54.32 L224.31,54.12 L224.70,53.93 L225.09,53.75 L225.47,53.56 L225.86,53.37 L226.24,53.18 L226.63,53.00 L227.02,52.81 L227.40,52.63 L227.79,52.45 L228.17,52.27 L228.56,52.09 L228.95,51.91 L229.33,51.73 L229.72,51.55 L230.10,51.38 L230.49,51.20 L230.88,51.03 L231.26,50.86 L231.65,50.68 L232.03,50.51 L232.42,50.34 L232.81,50.17 L233.19,50.00 L233.58,49.84 L233.96,49.67 L234.35,49.50 L234.74,49.34 L235.12,49.17 L235.51,49.01 L235.89,48.85 L236.28,48.69 L236.66,48.53 L237.05,48.37 L237.44,48.21 L237.82,48.05 L238.21,47.89 L238.59,47.73 L238.98,47.58 L239.37,47.42 L239.75,47.27 L240.14,47.12 L240.52,46.96 L240.91,46.81 L241.30,46.66 L241.68,46.51 L242.07,46.36 L242.45,46.21 L242.84,46.07 L243.23,45.92 L243.61,45.77 L244.00,45.63 L244.38,45.48 L244.77,45.34 L245.16,45.20 L245.54,45.05 L245.93,44.91 L246.31,44.77 L246.70,44.63 L247.09,44.49 L247.47,44.35 L247.86,44.21 L248.24,44.08 L248.63,43.94 L249.02,43.80 L249.40,43.67 L249.79,43.53 L250.17,43.40 L250.56,43.27 L250.95,43.14 L251.33,43.00 L251.72,42.87 L252.10,42.74 L252.49,42.61 L252.88,42.48 L253.26,42.35 L253.65,42.23 L254.03,42.10 L254.42,41.97 L254.81,41.85 L255.19,41.72 L255.58,41.60 L255.96,41.47 L256.35,41.35 L256.74,41.22 L257.12,41.10 L257.51,40.98 L257.89,40.86 L258.28,40.74 L258.67,40.62 L259.05,40.50 L259.44,40.38 L259.82,40.26 L260.21,40.15 L260.60,40.03 L260.98,39.91 L261.37,39.80 L261.75,39.68 L262.14,39.57 L262.52,39.45 L262.91,39.34 L263.30,39.22 L263.68,39.11 L264.07,39.00 L264.45,38.89 L264.84,38.78 L265.23,38.67 L265.61,38.56 L266.00,38.45 L266.38,38.34 L266.77,38.23 L267.16,38.12 L267.54,38.02 L267.93,37.91 L268.31,37.80 L268.70,37.70 L269.09,37.59 L269.47,37.49 L269.86,37.38 L270.24,37.28 L270.63,37.18 L271.02,37.07 L271.40,36.97 L271.79,36.87 L272.17,36.77 L272.56,36.67 L272.95,36.57 L273.33,36.47 L273.72,36.37 L274.10,36.27 L274.49,36.17 L274.88,36.07 L275.26,35.97 L275.65,35.88 L276.03,35.78 L276.42,35.68 L276.81,35.59 L277.19,35.49 L277.58,35.40 L277.96,35.30 L278.35,35.21 L278.74,35.11 L279.12,35.02 L279.51,34.93 L279.89,34.84 L280.28,34.74 L280.67,34.65 L281.05,34.56 L281.44,34.47 L281.82,34.38 L282.21,34.29 L282.60,34.20 L282.98,34.11 L283.37,34.02 L283.75,33.93 L284.14,33.85 L284.53,33.76 L284.91,33.67 L285.30,33.58 L285.68,33.50 L286.07,33.41 L286.45,33.33 L286.84,33.24 L287.23,33.16 L287.61,33.07 L288.00,32.99 L288.38,32.91 L288.77,32.82 L289.16,32.74 L289.54,32.66 L289.93,32.57 L290.31,32.49 L290.70,32.41 L291.09,32.33 L291.47,32.25 L291.86,32.17 L292.24,32.09 L292.63,32.01 L293.02,31.93 L293.40,31.85 L293.79,31.77 L294.17,31.69 L294.56,31.62 L294.95,31.54 L295.33,31.46 L295.72,31.38 L296.10,31.31 L296.49,31.23 L296.88,31.15 L297.26,31.08 L297.65,31.00 L298.03,30.93 L298.42,30.85 L298.81,30.78 L299.19,30.71 L299.58,30.63 L299.96,30.56 L300.35,30.48 L300.74,30.41 L301.12,30.34 L301.51,30.27 L301.89,30.20 L302.28,30.12 L302.67,30.05 L303.05,29.98 L303.44,29.91 L303.82,29.84 L304.21,29.77 L304.60,29.70 L304.98,29.63 L305.37,29.56 L305.75,29.49 L306.14,29.42 L306.53,29.36 L306.91,29.29 L307.30,29.22 L307.68,29.15 L308.07,29.09 L308.46,29.02 L308.84,28.95 L309.23,28.89 L309.61,28.82 L310.00,28.75 L310.38,28.69 L310.77,28.62 L311.16,28.56 L311.54,28.49 L311.93,28.43 L312.31,28.36 L312.70,28.30 L313.09,28.24 L313.47,28.17 L313.86,28.11 L314.24,28.05 L314.63,27.98 L315.02,27.92 L315.40,27.86 L315.79,27.80 L316.17,27.74 L316.56,27.67 L316.95,27.61 L317.33,27.55 L317.72,27.49 L318.10,27.43 L318.49,27.37 L318.88,27.31 L319.26,27.25 L319.65,27.19 L320.03,27.13 L320.42,27.07 L320.81,27.02 L321.19,26.96 L321.58,26.90 L321.96,26.84 L322.35,26.78 L322.74,26.73 L323.12,26.67 L323.51,26.61 L323.89,26.55 L324.28,26.50 L324.67,26.44 L325.05,26.38 L325.44,26.33 L325.82,26.27 L326.21,26.22 L326.60,26.16 L326.98,26.11 L327.37,26.05 L327.75,26.00 L328.14,25.94 L328.53,25.89 L328.91,25.83 L329.30,25.78 L329.68,25.73 L330.07,25.67 L330.46,25.62 L330.84,25.57 L331.23,25.51 L331.61,25.46 L332.00,25.41 L332.39,25.36 L332.77,25.30 L333.16,25.25 L333.54,25.20 L333.93,25.15 L334.32,25.10 L334.70,25.05 L335.09,25.00 L335.47,24.95 L335.86,24.90 L336.24,24.84 L336.63,24.79 L337.02,24.75 L337.40,24.70 L337.79,24.65 L338.17,24.60 L338.56,24.55 L338.95,24.50 L339.33,24.45 L339.72,24.40 L340.10,24.35 L340.49,24.30 L340.88,24.26 L341.26,24.21 L341.65,24.16 L342.03,24.11 L342.42,24.07 L342.81,24.02 L343.19,23.97 L343.58,23.93 L343.96,23.88 L344.35,23.83 L344.74,23.79 L345.12,23.74 L345.51,23.69 L345.89,23.65 L346.28,23.60 L346.67,23.56 L347.05,23.51 L347.44,23.47 L347.82,23.42 L348.21,23.38 L348.60,23.33 L348.98,23.29 L349.37,23.24 L349.75,23.20 L350.14,23.16 L350.53,23.11 L350.91,23.07 L351.30,23.02 L351.68,22.98 L352.07,22.94 L352.46,22.89 L352.84,22.85 L353.23,22.81 L353.61,22.77 L354.00,22.72 L354.39,22.68 L354.77,22.64 L355.16,22.60 L355.54,22.56 L355.93,22.51 L356.32,22.47 L356.70,22.43 L357.09,22.39 L357.47,22.35 L357.86,22.31 L358.25,22.27 L358.63,22.23 L359.02,22.19 L359.40,22.15 L359.79,22.11 L360.17,22.07 L360.56,22.03 L360.95,21.99 L361.33,21.95 L361.72,21.91 L362.10,21.87 L362.49,21.83 L362.88,21.79 L363.26,21.75 L363.65,21.71 L364.03,21.67 L364.42,21.64 L364.81,21.60 L365.19,21.56 L365.58,21.52 L365.96,21.48 L366.35,21.44 L366.74,21.41 L367.12,21.37 L367.51,21.33 L367.89,21.29 L368.28,21.26 L368.67,21.22 L369.05,21.18 L369.44,21.15 L369.82,21.11 L370.21,21.07 L370.60,21.04 L370.98,21.00 L371.37,20.96 L371.75,20.93 L372.14,20.89 L372.53,20.86 L372.91,20.82 L373.30,20.79 L373.68,20.75 L374.07,20.71 L374.46,20.68 L374.84,20.64 L375.23,20.61 L375.61,20.57 L376.00,20.54 L376.39,20.51 L376.77,20.47 L377.16,20.44 L377.54,20.40 L377.93,20.37 L378.32,20.33 L378.70,20.30 L379.09,20.27 L379.47,20.23 L379.86,20.20 L380.25,20.17 L380.63,20.13 L381.02,20.10 L381.40,20.07 L381.79,20.03 L382.18,20.00 L382.56,19.97 L382.95,19.93 L383.33,19.90 L383.72,19.87 L384.10,19.84 L384.49,19.80 L384.88,19.77 L385.26,19.74 L385.65,19.71 L386.03,19.68 L386.42,19.65 L386.81,19.61 L387.19,19.58 L387.58,19.55 L387.96,19.52 L388.35,19.49 L388.74,19.46 L389.12,19.43 L389.51,19.39 L389.89,19.36 L390.28,19.33 L390.67,19.30 L391.05,19.27 L391.44,19.24 L391.82,19.21 L392.21,19.18 L392.60,19.15 L392.98,19.12 L393.37,19.09 L393.75,19.06 L394.14,19.03 L394.53,19.00 L394.91,18.97 L395.30,18.94 L395.68,18.91 L396.07,18.88 L396.46,18.86 L396.84,18.83 L397.23,18.80 L397.61,18.77 L398.00,18.74 L398.39,18.71 L398.77,18.68 L399.16,18.65 L399.54,18.63 L399.93,18.60 L400.32,18.57 L400.70,18.54 L401.09,18.51 L401.47,18.48 L401.86,18.46 L402.25,18.43 L402.63,18.40 L403.02,18.37 L403.40,18.35 L403.79,18.32 L404.18,18.29 L404.56,18.26 L404.95,18.24 L405.33,18.21 L405.72,18.18 L406.11,18.16 L406.49,18.13 L406.88,18.10 L407.26,18.08 L407.65,18.05 L408.04,18.02 L408.42,18.00 L408.81,17.97 L409.19,17.94 L409.58,17.92 L409.96,17.89 L410.35,17.87 L410.74,17.84 L411.12,17.81 L411.51,17.79 L411.89,17.76 L412.28,17.74 L412.67,17.71 L413.05,17.69 L413.44,17.66 L413.82,17.63 L414.21,17.61 L414.60,17.58 L414.98,17.56 L415.37,17.53 L415.75,17.51 L416.14,17.48 L416.53,17.46 L416.91,17.43 L417.30,17.41 L417.68,17.39 L418.07,17.36 L418.46,17.34 L418.84,17.31 L419.23,17.29 L419.61,17.26 L420.00,17.24 L420.39,17.22 L420.77,17.19 L421.16,17.17 L421.54,17.14 L421.93,17.12 L422.32,17.10 L422.70,17.07 L423.09,17.05 L423.47,17.03 L423.86,17.00 L424.25,16.98 L424.63,16.96 L425.02,16.93 L425.40,16.91 L425.79,16.89 L426.18,16.86 L426.56,16.84 L426.95,16.82 L427.33,16.80 L427.72,16.77 L428.11,16.75 L428.49,16.73 L428.88,16.70 L429.26,16.68 L429.65,16.66 L430.04,16.64 L430.42,16.62 L430.81,16.59 L431.19,16.57 L431.58,16.55 L431.97,16.53 L432.35,16.50 L432.74,16.48 L433.12,16.46 L433.51,16.44 L433.89,16.42 L434.28,16.40 L434.67,16.37 L435.05,16.35 L435.44,16.33 L435.82,16.31 L436.21,16.29 L436.60,16.27 L436.98,16.25 L437.37,16.23 L437.75,16.20 L438.14,16.18 L438.53,16.16 L438.91,16.14 L439.30,16.12 L439.68,16.10 L440.07,16.08 L440.46,16.06 L440.84,16.04 L441.23,16.02 L441.61,16.00 L442.00,15.98 L442.39,15.96 L442.77,15.94 L443.16,15.92 L443.54,15.90 L443.93,15.88 L444.32,15.86 L444.70,15.84 L445.09,15.82 L445.47,15.80 L445.86,15.78 L446.25,15.76 L446.63,15.74 L447.02,15.72 L447.40,15.70 L447.79,15.68 L448.18,15.66 L448.56,15.64 L448.95,15.62 L449.33,15.60 L449.72,15.58 L450.11,15.56 L450.49,15.54 L450.88,15.52 L451.26,15.50 L451.65,15.49 L452.04,15.47 L452.42,15.45 L452.81,15.43 L453.19,15.41 L453.58,15.39 L453.97,15.37 L454.35,15.35 L454.74,15.34 L455.12,15.32 L455.51,15.30 L455.90,15.28 L456.28,15.26 L456.67,15.24 L457.05,15.23 L457.44,15.21 L457.83,15.19 L458.21,15.17 L458.60,15.15 L458.98,15.13 L459.37,15.12 L459.75,15.10 L460.14,15.08 L460.53,15.06 L460.91,15.05 L461.30,15.03 L461.68,15.01 L462.07,14.99 L462.46,14.97 L462.84,14.96 L463.23,14.94 L463.61,14.92 L464.00,14.90 L464.39,14.89 L464.77,14.87 L465.16,14.85 L465.54,14.84 L465.93,14.82 L466.32,14.80 L466.70,14.78 L467.09,14.77 L467.47,14.75 L467.86,14.73 L468.25,14.72 L468.63,14.70 L469.02,14.68 L469.40,14.67 L469.79,14.65 L470.18,14.63 L470.56,14.62 L470.95,14.60 L471.33,14.58 L471.72,14.57 L472.11,14.55 L472.49,14.53 L472.88,14.52 L473.26,14.50 L473.65,14.48 L474.04,14.47 L474.42,14.45 L474.81,14.44 L475.19,14.42 L475.58,14.40 L475.97,14.39 L476.35,14.37 L476.74,14.36 L477.12,14.34 L477.51,14.32 L477.90,14.31 L478.28,14.29 L478.67,14.28 L479.05,14.26 L479.44,14.25 L479.83,14.23 L480.21,14.21 L480.60,14.20 L480.98,14.18 L481.37,14.17 L481.76,14.15 L482.14,14.14 L482.53,14.12 L482.91,14.11 L483.30,14.09 L483.68,14.08 L484.07,14.06 L484.46,14.05 L484.84,14.03 L485.23,14.02 L485.61,14.00 L486.00,13.99 L486.39,13.97 L486.77,13.96 L487.16,13.94 L487.54,13.93 L487.93,13.91 L488.32,13.90 L488.70,13.88 L489.09,13.87 L489.47,13.85 L489.86,13.84 L490.25,13.82 L490.63,13.81 L491.02,13.80 L491.40,13.78 L491.79,13.77 L492.18,13.75 L492.56,13.74 L492.95,13.72 L493.33,13.71 L493.72,13.70 L494.11,13.68 L494.49,13.67 L494.88,13.65 L495.26,13.64 L495.65,13.62 L496.04,13.61 L496.42,13.60 L496.81,13.58 L497.19,13.57 L497.58,13.56 L497.97,13.54 L498.35,13.53 L498.74,13.51 L499.12,13.50 L499.51,13.49 L499.90,13.47 L500.28,13.46 L500.67,13.45 L501.05,13.43 L501.44,13.42 L501.83,13.41 L502.21,13.39 L502.60,13.38 L502.98,13.37 L503.37,13.35 L503.76,13.34 L504.14,13.33 L504.53,13.31 L504.91,13.30 L505.30,13.29 L505.69,13.27 L506.07,13.26 L506.46,13.25 L506.84,13.23 L507.23,13.22 L507.61,13.21 L508.00,13.19 L508.39,13.18 L508.77,13.17 L509.16,13.16 L509.54,13.14 L509.93,13.13 L510.32,13.12 L510.70,13.10 L511.09,13.09 L511.47,13.08 L511.86,13.07 L512.25,13.05 L512.63,13.04 L513.02,13.03 L513.40,13.02 L513.79,13.00 L514.18,12.99 L514.56,12.98" stroke="#ff8000" stroke-dasharray="4.62 4.62" stroke-dashoffset="-1.2"/>
<path d="M50.20,280.30 L51.40,280.30 L51.79,280.30 L52.17,280.30 L52.56,280.30 L52.94,280.30 L53.33,280.30 L53.72,280.30 L54.10,280.30 L54.49,280.30 L54.87,280.30 L55.26,280.30 L55.65,280.30 L56.03,280.30 L56.42,280.30 L56.80,280.30 L57.19,280.30 L57.58,280.30 L57.96,280.30 L58.35,280.30 L58.73,280.30 L59.12,280.30 L59.51,280.30 L59.89,280.30 L60.28,280.30 L60.66,280.30 L61.05,280.30 L61.44,280.30 L61.82,280.30 L62.21,280.29 L62.59,280.29 L62.98,280.29 L63.37,280.28 L63.75,280.28 L64.14,280.27 L64.52,280.26 L64.91,280.24 L65.29,280.22 L65.68,280.20 L66.07,280.17 L66.45,280.14 L66.84,280.10 L67.22,280.05 L67.61,280.00 L68.00,279.93 L68.38,279.86 L68.77,279.77 L69.15,279.68 L69.54,279.57 L69.93,279.45 L70.31,279.32 L70.70,279.17 L71.08,279.01 L71.47,278.83 L71.86,278.64 L72.24,278.42 L72.63,278.20 L73.01,277.95 L73.40,277.68 L73.79,277.40 L74.17,277.09 L74.56,276.77 L74.94,276.42 L75.33,276.05 L75.72,275.66 L76.10,275.26 L76.49,274.83 L76.87,274.37 L77.26,273.90 L77.65,273.40 L78.03,272.89 L78.42,272.35 L78.80,271.79 L79.19,271.20 L79.58,270.60 L79.96,269.97 L80.35,269.33 L80.73,268.66 L81.12,267.97 L81.51,267.26 L81.89,266.53 L82.28,265.78 L82.66,265.01 L83.05,264.22 L83.44,263.41 L83.82,262.59 L84.21,261.74 L84.59,260.88 L84.98,260.00 L85.37,259.11 L85.75,258.19 L86.14,257.26 L86.52,256.32 L86.91,255.36 L87.30,254.39 L87.68,253.40 L88.07,252.40 L88.45,251.38 L88.84,250.36 L89.22,249.32 L89.61,248.27 L90.00,247.20 L90.38,246.13 L90.77,245.05 L91.15,243.95 L91.54,242.85 L91.93,241.74 L92.31,240.62 L92.70,239.49 L93.08,238.36 L93.47,237.22 L93.86,236.07 L94.24,234.91 L94.63,233.75 L95.01,232.58 L95.40,231.41 L95.79,230.24 L96.17,229.06 L96.56,227.87 L96.94,226.69 L97.33,225.50 L97.72,224.31 L98.10,223.11 L98.49,221.91 L98.87,220.72 L99.26,219.52 L99.65,218.31 L100.03,217.11 L100.42,215.91 L100.80,214.71 L101.19,213.51 L101.58,212.31 L101.96,211.11 L102.35,209.91 L102.73,208.71 L103.12,207.51 L103.51,206.32 L103.89,205.13 L104.28,203.93 L104.66,202.75 L105.05,201.56 L105.44,200.38 L105.82,199.20 L106.21,198.02 L106.59,196.85 L106.98,195.68 L107.37,194.51 L107.75,193.35 L108.14,192.19 L108.52,191.04 L108.91,189.89 L109.30,188.74 L109.68,187.60 L110.07,186.46 L110.45,185.33 L110.84,184.21 L111.23,183.08 L111.61,181.97 L112.00,180.86 L112.38,179.75 L112.77,178.65 L113.15,177.55 L113.54,176.46 L113.93,175.38 L114.31,174.30 L114.70,173.23 L115.08,172.16 L115.47,171.10 L115.86,170.04 L116.24,169.00 L116.63,167.95 L117.01,166.91 L117.40,165.88 L117.79,164.86 L118.17,163.84 L118.56,162.82 L118.94,161.82 L119.33,160.82 L119.72,159.82 L120.10,158.83 L120.49,157.85 L120.87,156.88 L121.26,155.91 L121.65,154.94 L122.03,153.99 L122.42,153.03 L122.80,152.09 L123.19,151.15 L123.58,150.22 L123.96,149.29 L124.35,148.37 L124.73,147.46 L125.12,146.55 L125.51,145.65 L125.89,144.76 L126.28,143.87 L126.66,142.99 L127.05,142.11 L127.44,141.24 L127.82,140.38 L128.21,139.52 L128.59,138.67 L128.98,137.83 L129.37,136.99 L129.75,136.16 L130.14,135.33 L130.52,134.51 L130.91,133.69 L131.30,132.88 L131.68,132.08 L132.07,131.28 L132.45,130.49 L132.84,129.71 L133.23,128.93 L133.61,128.15 L134.00,127.39 L134.38,126.62 L134.77,125.87 L135.16,125.12 L135.54,124.37 L135.93,123.63 L136.31,122.90 L136.70,122.17 L137.09,121.44 L137.47,120.73 L137.86,120.01 L138.24,119.31 L138.63,118.61 L139.01,117.91 L139.40,117.22 L139.79,116.53 L140.17,115.85 L140.56,115.18 L140.94,114.51 L141.33,113.84 L141.72,113.18 L142.10,112.53 L142.49,111.88 L142.87,111.23 L143.26,110.59 L143.65,109.96 L144.03,109.33 L144.42,108.70 L144.80,108.08 L145.19,107.47 L145.58,106.85 L145.96,106.25 L146.35,105.65 L146.73,105.05 L147.12,104.46 L147.51,103.87 L147.89,103.28 L148.28,102.70 L148.66,102.13 L149.05,101.56 L149.44,100.99 L149.82,100.43 L150.21,99.87 L150.59,99.32 L150.98,98.77 L151.37,98.23 L151.75,97.69 L152.14,97.15 L152.52,96.62 L152.91,96.09 L153.30,95.57 L153.68,95.05 L154.07,94.53 L154.45,94.02 L154.84,93.51 L155.23,93.00 L155.61,92.50 L156.00,92.01 L156.38,91.51 L156.77,91.02 L157.16,90.54 L157.54,90.06 L157.93,89.58 L158.31,89.10 L158.70,88.63 L159.09,88.16 L159.47,87.70 L159.86,87.24 L160.24,86.78 L160.63,86.33 L161.02,85.88 L161.40,85.43 L161.79,84.99 L162.17,84.55 L162.56,84.11 L162.94,83.68 L163.33,83.25 L163.72,82.82 L164.10,82.39 L164.49,81.97 L164.87,81.55 L165.26,81.14 L165.65,80.73 L166.03,80.32 L166.42,79.91 L166.80,79.51 L167.19,79.11 L167.58,78.71 L167.96,78.32 L168.35,77.93 L168.73,77.54 L169.12,77.16 L169.51,76.77 L169.89,76.39 L170.28,76.02 L170.66,75.64 L171.05,75.27 L171.44,74.90 L171.82,74.54 L172.21,74.17 L172.59,73.81 L172.98,73.46 L173.37,73.10 L173.75,72.75 L174.14,72.40 L174.52,72.05 L174.91,71.70 L175.30,71.36 L175.68,71.02 L176.07,70.68 L176.45,70.35 L176.84,70.01 L177.23,69.68 L177.61,69.35 L178.00,69.03 L178.38,68.70 L178.77,68.38 L179.16,68.06 L179.54,67.75 L179.93,67.43 L180.31,67.12 L180.70,66.81 L181.09,66.50 L181.47,66.19 L181.86,65.89 L182.24,65.59 L182.63,65.29 L183.02,64.99 L183.40,64.70 L183.79,64.40 L184.17,64.11 L184.56,63.82 L184.95,63.53 L185.33,63.25 L185.72,62.96 L186.10,62.68 L186.49,62.40 L186.88,62.13 L187.26,61.85 L187.65,61.58 L188.03,61.30 L188.42,61.03 L188.80,60.77 L189.19,60.50 L189.58,60.23 L189.96,59.97 L190.35,59.71 L190.73,59.45 L191.12,59.19 L191.51,58.94 L191.89,58.68 L192.28,58.43 L192.66,58.18 L193.05,57.93 L193.44,57.68 L193.82,57.44 L194.21,57.19 L194.59,56.95 L194.98,56.71 L195.37,56.47 L195.75,56.23 L196.14,56.00 L196.52,55.76 L196.91,55.53 L197.30,55.30 L197.68,55.07 L198.07,54.84 L198.45,54.61 L198.84,54.39 L199.23,54.16 L199.61,53.94 L200.00,53.72 L200.38,53.50 L200.77,53.28 L201.16,53.06 L201.54,52.85 L201.93,52.63 L202.31,52.42 L202.70,52.21 L203.09,52.00 L203.47,51.79 L203.86,51.58 L204.24,51.38 L204.63,51.17 L205.02,50.97 L205.40,50.77 L205.79,50.57 L206.17,50.37 L206.56,50.17 L206.95,49.97 L207.33,49.77 L207.72,49.58 L208.10,49.39 L208.49,49.19 L208.88,49.00 L209.26,48.81 L209.65,48.63 L210.03,48.44 L210.42,48.25 L210.81,48.07 L211.19,47.88 L211.58,47.70 L211.96,47.52 L212.35,47.34 L212.73,47.16 L213.12,46.98 L213.51,46.80 L213.89,46.63 L214.28,46.45 L214.66,46.28 L215.05,46.10 L215.44,45.93 L215.82,45.76 L216.21,45.59 L216.59,45.42 L216.98,45.25 L217.37,45.09 L217.75,44.92 L218.14,44.76 L218.52,44.59 L218.91,44.43 L219.30,44.27 L219.68,44.11 L220.07,43.95 L220.45,43.79 L220.84,43.63 L221.23,43.47 L221.61,43.32 L222.00,43.16 L222.38,43.01 L222.77,42.86 L223.16,42.70 L223.54,42.55 L223.93,42.40 L224.31,42.25 L224.70,42.10 L225.09,41.95 L225.47,41.81 L225.86,41.66 L226.24,41.51 L226.63,41.37 L227.02,41.23 L227.40,41.08 L227.79,40.94 L228.17,40.80 L228.56,40.66 L228.95,40.52 L229.33,40.38 L229.72,40.24 L230.10,40.10 L230.49,39.97 L230.88,39.83 L231.26,39.70 L231.65,39.56 L232.03,39.43 L232.42,39.30 L232.81,39.16 L233.19,39.03 L233.58,38.90 L233.96,38.77 L234.35,38.64 L234.74,38.52 L235.12,38.39 L235.51,38.26 L235.89,38.14 L236.28,38.01 L236.66,37.89 L237.05,37.76 L237.44,37.64 L237.82,37.51 L238.21,37.39 L238.59,37.27 L238.98,37.15 L239.37,37.03 L239.75,36.91 L240.14,36.79 L240.52,36.67 L240.91,36.56 L241.30,36.44 L241.68,36.32 L242.07,36.21 L242.45,36.09 L242.84,35.98 L243.23,35.87 L243.61,35.75 L244.00,35.64 L244.38,35.53 L244.77,35.42 L245.16,35.31 L245.54,35.20 L245.93,35.09 L246.31,34.98 L246.70,34.87 L247.09,34.76 L247.47,34.66 L247.86,34.55 L248.24,34.44 L248.63,34.34 L249.02,34.23 L249.40,34.13 L249.79,34.02 L250.17,33.92 L250.56,33.82 L250.95,33.72 L251.33,33.62 L251.72,33.51 L252.10,33.41 L252.49,33.31 L252.88,33.21 L253.26,33.12 L253.65,33.02 L254.03,32.92 L254.42,32.82 L254.81,32.72 L255.19,32.63 L255.58,32.53 L255.96,32.44 L256.35,32.34 L256.74,32.25 L257.12,32.15 L257.51,32.06 L257.89,31.97 L258.28,31.87 L258.67,31.78 L259.05,31.69 L259.44,31.60 L259.82,31.51 L260.21,31.42 L260.60,31.33 L260.98,31.24 L261.37,31.15 L261.75,31.06 L262.14,30.97 L262.52,30.89 L262.91,30.80 L263.30,30.71 L263.68,30.63 L264.07,30.54 L264.45,30.46 L264.84,30.37 L265.23,30.29 L265.61,30.20 L266.00,30.12 L266.38,30.03 L266.77,29.95 L267.16,29.87 L267.54,29.79 L267.93,29.71 L268.31,29.62 L268.70,29.54 L269.09,29.46 L269.47,29.38 L269.86,29.30 L270.24,29.22 L270.63,29.15 L271.02,29.07 L271.40,28.99 L271.79,28.91 L272.17,28.83 L272.56,28.76 L272.95,28.68 L273.33,28.60 L273.72,28.53 L274.10,28.45 L274.49,28.38 L274.88,28.30 L275.26,28.23 L275.65,28.15 L276.03,28.08 L276.42,28.01 L276.81,27.93 L277.19,27.86 L277.58,27.79 L277.96,27.72 L278.35,27.64 L278.74,27.57 L279.12,27.50 L279.51,27.43 L279.89,27.36 L280.28,27.29 L280.67,27.22 L281.05,27.15 L281.44,27.08 L281.82,27.01 L282.21,26.95 L282.60,26.88 L282.98,26.81 L283.37,26.74 L283.75,26.68 L284.14,26.61 L284.53,26.54 L284.91,26.48 L285.30,26.41 L285.68,26.34 L286.07,26.28 L286.45,26.21 L286.84,26.15 L287.23,26.09 L287.61,26.02 L288.00,25.96 L288.38,25.89 L288.77,25.83 L289.16,25.77 L289.54,25.70 L289.93,25.64 L290.31,25.58 L290.70,25.52 L291.09,25.46 L291.47,25.40 L291.86,25.33 L292.24,25.27 L292.63,25.21 L293.02,25.15 L293.40,25.09 L293.79,25.03 L294.17,24.97 L294.56,24.92 L294.95,24.86 L295.33,24.80 L295.72,24.74 L296.10,24.68 L296.49,24.62 L296.88,24.57 L297.26,24.51 L297.65,24.45 L298.03,24.39 L298.42,24.34 L298.81,24.28 L299.19,24.23 L299.58,24.17 L299.96,24.11 L300.35,24.06 L300.74,24.00 L301.12,23.95 L301.51,23.89 L301.89,23.84 L302.28,23.79 L302.67,23.73 L303.05,23.68 L303.44,23.63 L303.82,23.57 L304.21,23.52 L304.60,23.47 L304.98,23.41 L305.37,23.36 L305.75,23.31 L306.14,23.26 L306.53,23.21 L306.91,23.15 L307.30,23.10 L307.68,23.05 L308.07,23.00 L308.46,22.95 L308.84,22.90 L309.23,22.85 L309.61,22.80 L310.00,22.75 L310.38,22.70 L310.77,22.65 L311.16,22.60 L311.54,22.55 L311.93,22.51 L312.31,22.46 L312.70,22.41 L313.09,22.36 L313.47,22.31 L313.86,22.27 L314.24,22.22 L314.63,22.17 L315.02,22.12 L315.40,22.08 L315.79,22.03 L316.17,21.98 L316.56,21.94 L316.95,21.89 L317.33,21.85 L317.72,21.80 L318.10,21.75 L318.49,21.71 L318.88,21.66 L319.26,21.62 L319.65,21.57 L320.03,21.53 L320.42,21.48 L320.81,21.44 L321.19,21.40 L321.58,21.35 L321.96,21.31 L322.35,21.27 L322.74,21.22 L323.12,21.18 L323.51,21.14 L323.89,21.09 L324.28,21.05 L324.67,21.01 L325.05,20.97 L325.44,20.92 L325.82,20.88 L326.21,20.84 L326.60,20.80 L326.98,20.76 L327.37,20.72 L327.75,20.67 L328.14,20.63 L328.53,20.59 L328.91,20.55 L329.30,20.51 L329.68,20.47 L330.07,20.43 L330.46,20.39 L330.84,20.35 L331.23,20.31 L331.61,20.27 L332.00,20.23 L332.39,20.19 L332.77,20.15 L333.16,20.11 L333.54,20.08 L333.93,20.04 L334.32,20.00 L334.70,19.96 L335.09,19.92 L335.47,19.88 L335.86,19.85 L336.24,19.81 L336.63,19.77 L337.02,19.73 L337.40,19.70 L337.79,19.66 L338.17,19.62 L338.56,19.59 L338.95,19.55 L339.33,19.51 L339.72,19.48 L340.10,19.44 L340.49,19.40 L340.88,19.37 L341.26,19.33 L341.65,19.30 L342.03,19.26 L342.42,19.22 L342.81,19.19 L343.19,19.15 L343.58,19.12 L343.96,19.08 L344.35,19.05 L344.74,19.01 L345.12,18.98 L345.51,18.95 L345.89,18.91 L346.28,18.88 L346.67,18.84 L347.05,18.81 L347.44,18.77 L347.82,18.74 L348.21,18.71 L348.60,18.67 L348.98,18.64 L349.37,18.61 L349.75,18.57 L350.14,18.54 L350.53,18.51 L350.91,18.48 L351.30,18.44 L351.68,18.41 L352.07,18.38 L352.46,18.35 L352.84,18.31 L353.23,18.28 L353.61,18.25 L354.00,18.22 L354.39,18.19 L354.77,18.16 L355.16,18.12 L355.54,18.09 L355.93,18.06 L356.32,18.03 L356.70,18.00 L357.09,17.97 L357.47,17.94 L357.86,17.91 L358.25,17.88 L358.63,17.85 L359.02,17.82 L359.40,17.79 L359.79,17.76 L360.17,17.73 L360.56,17.70 L360.95,17.67 L361.33,17.64 L361.72,17.61 L362.10,17.58 L362.49,17.55 L362.88,17.52 L363.26,17.49 L363.65,17.46 L364.03,17.43 L364.42,17.40 L364.81,17.38 L365.19,17.35 L365.58,17.32 L365.96,17.29 L366.35,17.26 L366.74,17.23 L367.12,17.21 L367.51,17.18 L367.89,17.15 L368.28,17.12 L368.67,17.09 L369.05,17.07 L369.44,17.04 L369.82,17.01 L370.21,16.98 L370.60,16.96 L370.98,16.93 L371.37,16.90 L371.75,16.88 L372.14,16.85 L372.53,16.82 L372.91,16.80 L373.30,16.77 L373.68,16.74 L374.07,16.72 L374.46,16.69 L374.84,16.66 L375.23,16.64 L375.61,16.61 L376.00,16.59 L376.39,16.56 L376.77,16.53 L377.16,16.51 L377.54,16.48 L377.93,16.46 L378.32,16.43 L378.70,16.41 L379.09,16.38 L379.47,16.36 L379.86,16.33 L380.25,16.31 L380.63,16.28 L381.02,16.26 L381.40,16.23 L381.79,16.21 L382.18,16.18 L382.56,16.16 L382.95,16.13 L383.33,16.11 L383.72,16.09 L384.10,16.06 L384.49,16.04 L384.88,16.01 L385.26,15.99 L385.65,15.97 L386.03,15.94 L386.42,15.92 L386.81,15.90 L387.19,15.87 L387.58,15.85 L387.96,15.82 L388.35,15.80 L388.74,15.78 L389.12,15.76 L389.51,15.73 L389.89,15.71 L390.28,15.69 L390.67,15.66 L391.05,15.64 L391.44,15.62 L391.82,15.60 L392.21,15.57 L392.60,15.55 L392.98,15.53 L393.37,15.51 L393.75,15.48 L394.14,15.46 L394.53,15.44 L394.91,15.42 L395.30,15.40 L395.68,15.37 L396.07,15.35 L396.46,15.33 L396.84,15.31 L397.23,15.29 L397.61,15.27 L398.00,15.24 L398.39,15.22 L398.77,15.20 L399.16,15.18 L399.54,15.16 L399.93,15.14 L400.32,15.12 L400.70,15.10 L401.09,15.08 L401.47,15.05 L401.86,15.03 L402.25,15.01 L402.63,14.99 L403.02,14.97 L403.40,14.95 L403.79,14.93 L404.18,14.91 L404.56,14.89 L404.95,14.87 L405.33,14.85 L405.72,14.83 L406.11,14.81 L406.49,14.79 L406.88,14.77 L407.26,14.75 L407.65,14.73 L408.04,14.71 L408.42,14.69 L408.81,14.67 L409.19,14.65 L409.58,14.63 L409.96,14.61 L410.35,14.59 L410.74,14.57 L411.12,14.55 L411.51,14.54 L411.89,14.52 L412.28,14.50 L412.67,14.48 L413.05,14.46 L413.44,14.44 L413.82,14.42 L414.21,14.40 L414.60,14.38 L414.98,14.37 L415.37,14.35 L415.75,14.33 L416.14,14.31 L416.53,14.29 L416.91,14.27 L417.30,14.26 L417.68,14.24 L418.07,14.22 L418.46,14.20 L418.84,14.18 L419.23,14.16 L419.61,14.15 L420.00,14.13 L420.39,14.11 L420.77,14.09 L421.16,14.08 L421.54,14.06 L421.93,14.04 L422.32,14.02 L422.70,14.00 L423.09,13.99 L423.47,13.97 L423.86,13.95 L424.25,13.94 L424.63,13.92 L425.02,13.90 L425.40,13.88 L425.79,13.87 L426.18,13.85 L426.56,13.83 L426.95,13.82 L427.33,13.80 L427.72,13.78 L428.11,13.76 L428.49,13.75 L428.88,13.73 L429.26,13.71 L429.65,13.70 L430.04,13.68 L430.42,13.66 L430.81,13.65 L431.19,13.63 L431.58,13.62 L431.97,13.60 L432.35,13.58 L432.74,13.57 L433.12,13.55 L433.51,13.53 L433.89,13.52 L434.28,13.50 L434.67,13.49 L435.05,13.47 L435.44,13.45 L435.82,13.44 L436.21,13.42 L436.60,13.41 L436.98,13.39 L437.37,13.38 L437.75,13.36 L438.14,13.34 L438.53,13.33 L438.91,13.31 L439.30,13.30 L439.68,13.28 L440.07,13.27 L440.46,13.25 L440.84,13.24 L441.23,13.22 L441.61,13.21 L442.00,13.19 L442.39,13.18 L442.77,13.16 L443.16,13.15 L443.54,13.13 L443.93,13.12 L444.32,13.10 L444.70,13.09 L445.09,13.07 L445.47,13.06 L445.86,13.04 L446.25,13.03 L446.63,13.01 L447.02,13.00 L447.40,12.98 L447.79,12.97 L448.18,12.95 L448.56,12.94 L448.95,12.93 L449.33,12.91 L449.72,12.90 L450.11,12.88 L450.49,12.87 L450.88,12.85 L451.26,12.84 L451.65,12.83 L452.04,12.81 L452.42,12.80 L452.81,12.78 L453.19,12.77 L453.58,12.76 L453.97,12.74 L454.35,12.73 L454.74,12.72 L455.12,12.70 L455.51,12.69 L455.90,12.67 L456.28,12.66 L456.67,12.65 L457.05,12.63 L457.44,12.62 L457.83,12.61 L458.21,12.59 L458.60,12.58 L458.98,12.57 L459.37,12.55 L459.75,12.54 L460.14,12.53 L460.53,12.51 L460.91,12.50 L461.30,12.49 L461.68,12.47 L462.07,12.46 L462.46,12.45 L462.84,12.44 L463.23,12.42 L463.61,12.41 L464.00,12.40 L464.39,12.38 L464.77,12.37 L465.16,12.36 L465.54,12.35 L465.93,12.33 L466.32,12.32 L466.70,12.31 L467.09,12.29 L467.47,12.28 L467.86,12.27 L468.25,12.26 L468.63,12.24 L469.02,12.23 L469.40,12.22 L469.79,12.21 L470.18,12.19 L470.56,12.18 L470.95,12.17 L471.33,12.16 L471.72,12.15 L472.11,12.13 L472.49,12.12 L472.88,12.11 L473.26,12.10 L473.65,12.09 L474.04,12.07 L474.42,12.06 L474.81,12.05 L475.19,12.04 L475.58,12.03 L475.97,12.01 L476.35,12.00 L476.74,11.99 L477.12,11.98 L477.51,11.97 L477.90,11.95 L478.28,11.94 L478.67,11.93 L479.05,11.92 L479.44,11.91 L479.83,11.90 L480.21,11.89 L480.60,11.87 L480.98,11.86 L481.37,11.85 L481.76,11.84 L482.14,11.83 L482.53,11.82 L482.91,11.81 L483.30,11.79 L483.68,11.78 L484.07,11.77 L484.46,11.76 L484.84,11.75 L485.23,11.74 L485.61,11.73 L486.00,11.72 L486.39,11.71 L486.77,11.69 L487.16,11.68 L487.54,11.67 L487.93,11.66 L488.32,11.65 L488.70,11.64 L489.09,11.63 L489.47,11.62 L489.86,11.61 L490.25,11.60 L490.63,11.59 L491.02,11.58 L491.40,11.56 L491.79,11.55 L492.18,11.54 L492.56,11.53 L492.95,11.52 L493.33,11.51 L493.72,11.50 L494.11,11.49 L494.49,11.48 L494.88,11.47 L495.26,11.46 L495.65,11.45 L496.04,11.44 L496.42,11.43 L496.81,11.42 L497.19,11.41 L497.58,11.40 L497.97,11.39 L498.35,11.38 L498.74,11.37 L499.12,11.36 L499.51,11.35 L499.90,11.34 L500.28,11.33 L500.67,11.32 L501.05,11.31 L501.44,11.30 L501.83,11.29 L502.21,11.28 L502.60,11.27 L502.98,11.26 L503.37,11.25 L503.76,11.24 L504.14,11.23 L504.53,11.22 L504.91,11.21 L505.30,11.20 L505.69,11.19 L506.07,11.18 L506.46,11.17 L506.84,11.16 L507.23,11.15 L507.61,11.14 L508.00,11.13 L508.39,11.12 L508.77,11.11 L509.16,11.10 L509.54,11.09 L509.93,11.08 L510.32,11.07 L510.70,11.06 L511.09,11.06 L511.47,11.05 L511.86,11.04 L512.25,11.03 L512.63,11.02 L513.02,11.01 L513.40,11.00 L513.79,10.99 L514.18,10.98 L514.56,10.97" stroke="#00ff00" stroke-dasharray="1.6 5.7 6.7 5.5" stroke-dashoffset="-1.4"/>
</g>
<g stroke="#000000" stroke-opacity="0.4" fill="none" stroke-linecap="butt">
<path d="M51.0,1.98 V288.95" stroke-width="1.36"/>
<path d="M51.0,288.4 H512.45" stroke-width="1.1"/>
<path d="M512.45,1.98 V288.95" stroke-width="1.15"/>
<path d="M51.0,2.6 H512.45" stroke-width="1.1"/>
</g>
<g stroke="#000000" stroke-opacity="0.36" stroke-width="1" fill="none">
<path d="M69.82,288.4 v-3.3 M69.82,2.6 v3.3" stroke-opacity="0.56"/>
<path d="M88.23,288.4 v-3.3 M88.23,2.6 v3.3" stroke-opacity="0.56"/>
<path d="M106.65,288.4 v-3.3 M106.65,2.6 v3.3" stroke-opacity="0.56"/>
<path d="M125.06,288.4 v-3.3 M125.06,2.6 v3.3" stroke-opacity="0.56"/>
<path d="M143.48,288.4 v-5.8 M143.48,2.6 v5.8" stroke-opacity="0.56"/>
<path d="M161.90,288.4 v-3.3 M161.90,2.6 v3.3" stroke-opacity="0.56"/>
<path d="M180.31,288.4 v-3.3 M180.31,2.6 v3.3" stroke-opacity="0.56"/>
<path d="M198.73,288.4 v-3.3 M198.73,2.6 v3.3" stroke-opacity="0.56"/>
<path d="M217.14,288.4 v-3.3 M217.14,2.6 v3.3" stroke-opacity="0.56"/>
<path d="M235.56,288.4 v-5.8 M235.56,2.6 v5.8" stroke-opacity="0.56"/>
<path d="M253.98,288.4 v-3.3 M253.98,2.6 v3.3" stroke-opacity="0.56"/>
<path d="M272.39,288.4 v-3.3 M272.39,2.6 v3.3" stroke-opacity="0.56"/>
<path d="M290.81,288.4 v-3.3 M290.81,2.6 v3.3" stroke-opacity="0.56"/>
<path d="M309.22,288.4 v-3.3 M309.22,2.6 v3.3" stroke-opacity="0.56"/>
<path d="M327.64,288.4 v-5.8 M327.64,2.6 v5.8" stroke-opacity="0.56"/>
<path d="M346.06,288.4 v-3.3 M346.06,2.6 v3.3" stroke-opacity="0.56"/>
<path d="M364.47,288.4 v-3.3 M364.47,2.6 v3.3" stroke-opacity="0.56"/>
<path d="M382.89,288.4 v-3.3 M382.89,2.6 v3.3" stroke-opacity="0.56"/>
<path d="M401.30,288.4 v-3.3 M401.30,2.6 v3.3" stroke-opacity="0.56"/>
<path d="M419.72,288.4 v-5.8 M419.72,2.6 v5.8" stroke-opacity="0.56"/>
<path d="M438.14,288.4 v-3.3 M438.14,2.6 v3.3" stroke-opacity="0.56"/>
<path d="M456.55,288.4 v-3.3 M456.55,2.6 v3.3" stroke-opacity="0.56"/>
<path d="M474.97,288.4 v-3.3 M474.97,2.6 v3.3" stroke-opacity="0.56"/>
<path d="M493.38,288.4 v-3.3 M493.38,2.6 v3.3" stroke-opacity="0.56"/>
<path d="M51.0,280.30 h5.8 M512.45,280.30 h-5.8"/>
<path d="M51.0,266.56 h3.3 M512.45,266.56 h-3.3"/>
<path d="M51.0,252.81 h3.3 M512.45,252.81 h-3.3"/>
<path d="M51.0,239.06 h3.3 M512.45,239.06 h-3.3"/>
<path d="M51.0,225.32 h5.8 M512.45,225.32 h-5.8"/>
<path d="M51.0,211.58 h3.3 M512.45,211.58 h-3.3"/>
<path d="M51.0,197.83 h3.3 M512.45,197.83 h-3.3"/>
<path d="M51.0,184.09 h3.3 M512.45,184.09 h-3.3"/>
<path d="M51.0,170.34 h5.8 M512.45,170.34 h-5.8"/>
<path d="M51.0,156.60 h3.3 M512.45,156.60 h-3.3"/>
<path d="M51.0,142.85 h3.3 M512.45,142.85 h-3.3"/>
<path d="M51.0,129.11 h3.3 M512.45,129.11 h-3.3"/>
<path d="M51.0,115.36 h5.8 M512.45,115.36 h-5.8"/>
<path d="M51.0,101.62 h3.3 M512.45,101.62 h-3.3"/>
<path d="M51.0,87.87 h3.3 M512.45,87.87 h-3.3"/>
<path d="M51.0,74.13 h3.3 M512.45,74.13 h-3.3"/>
<path d="M51.0,60.38 h5.8 M512.45,60.38 h-5.8"/>
<path d="M51.0,46.64 h3.3 M512.45,46.64 h-3.3"/>
<path d="M51.0,32.89 h3.3 M512.45,32.89 h-3.3"/>
<path d="M51.0,19.15 h3.3 M512.45,19.15 h-3.3"/>
<path d="M51.0,5.40 h5.8 M512.45,5.40 h-5.8"/>
</g>
<g font-size="14px" letter-spacing="0.45" stroke="#000" stroke-width="0.25" stroke-linejoin="round">
<text transform="translate(51.40,306.4) scale(1,1.1)" text-anchor="middle">0.0</text>
<text transform="translate(143.48,306.4) scale(1,1.1)" text-anchor="middle">0.1</text>
<text transform="translate(235.56,306.4) scale(1,1.1)" text-anchor="middle">0.2</text>
<text transform="translate(327.64,306.4) scale(1,1.1)" text-anchor="middle">0.3</text>
<text transform="translate(419.72,306.4) scale(1,1.1)" text-anchor="middle">0.4</text>
<text transform="translate(511.80,306.4) scale(1,1.1)" text-anchor="middle">0.5</text>
<text transform="translate(46.3,285.75) scale(1,1.1)" text-anchor="end">0.0</text>
<text transform="translate(46.3,230.77) scale(1,1.1)" text-anchor="end">0.2</text>
<text transform="translate(46.3,175.79) scale(1,1.1)" text-anchor="end">0.4</text>
<text transform="translate(46.3,120.81) scale(1,1.1)" text-anchor="end">0.6</text>
<text transform="translate(46.3,65.83) scale(1,1.1)" text-anchor="end">0.8</text>
<text transform="translate(46.3,10.85) scale(1,1.1)" text-anchor="end">1.0</text>
</g>
<text x="280" y="334.3" text-anchor="middle" font-size="14px" font-style="italic">ω</text>
<g transform="translate(11.5,152.5) rotate(-90)"><text x="0" y="0" font-size="14px" font-style="italic">T<tspan font-size="10px" dy="2.6" dx="-1.2">b</tspan></text></g>
<rect x="365.1" y="147.3" width="133.6" height="131.3" rx="7" ry="7" fill="#e0ffe0" stroke="#000" stroke-width="2.2"/>
<path d="M373.3,168.4 H418.4" stroke="#ff0000" stroke-width="2.7" fill="none"/>
<text x="427.6" y="171.9" font-size="16.8px" textLength="33.6" lengthAdjust="spacing">m=1</text>
<path d="M374.9,199.5 H416.9" stroke="#0000ff" stroke-width="2.7" fill="none" stroke-dasharray="13.2 12.2"/>
<text x="427.6" y="203.0" font-size="16.8px" textLength="59.9" lengthAdjust="spacing">m=1.25</text>
<path d="M374.9,230.6 H416.9" stroke="#ff8000" stroke-width="2.7" fill="none" stroke-dasharray="5 5.08"/>
<text x="427.6" y="234.1" font-size="16.8px" textLength="50.4" lengthAdjust="spacing">m=1.5</text>
<path d="M374.9,261.7 H416.9" stroke="#00ff00" stroke-width="2.7" fill="none" stroke-dasharray="1.3 6.2 6.4 5.65"/>
<text x="427.6" y="265.2" font-size="16.8px" textLength="59.9" lengthAdjust="spacing">m=1.75</text>
</svg></body></html>
